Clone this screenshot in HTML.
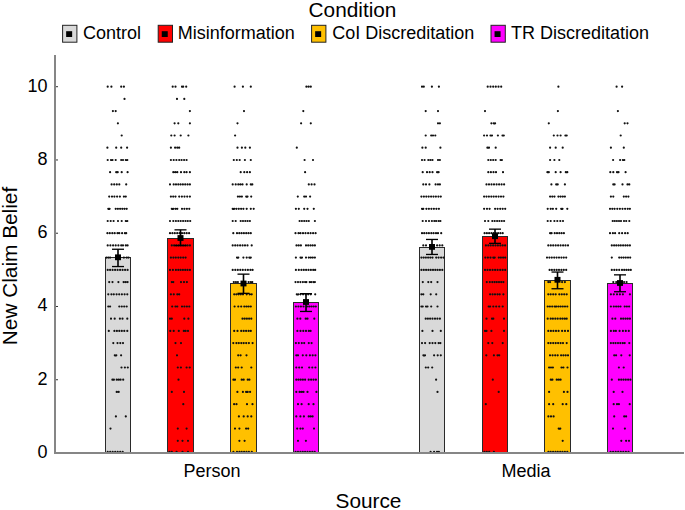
<!DOCTYPE html><html><head><meta charset="utf-8"><style>html,body{margin:0;padding:0;background:#fff;}svg{display:block;}text{font-family:"Liberation Sans",sans-serif;fill:#000;}</style></head><body>
<svg width="685" height="510" viewBox="0 0 685 510">
<rect width="685" height="510" fill="#fff"/>
<text x="352.5" y="16.6" font-size="20.8" text-anchor="middle">Condition</text>
<rect x="62.6" y="25.3" width="14.3" height="16.9" fill="#d9d9d9" stroke="#222" stroke-width="1"/>
<rect x="66.15" y="31.2" width="6" height="5.8" fill="#000"/>
<text x="83" y="39.4" font-size="18">Control</text>
<rect x="158.2" y="25.3" width="14.3" height="16.9" fill="#ff0000" stroke="#222" stroke-width="1"/>
<rect x="161.75" y="31.2" width="6" height="5.8" fill="#000"/>
<text x="177.7" y="39.4" font-size="18">Misinformation</text>
<rect x="311.6" y="25.3" width="14.3" height="16.9" fill="#ffc000" stroke="#222" stroke-width="1"/>
<rect x="315.15" y="31.2" width="6" height="5.8" fill="#000"/>
<text x="332.3" y="39.4" font-size="18">CoI Discreditation</text>
<rect x="491.0" y="25.3" width="14.3" height="16.9" fill="#ff00ff" stroke="#222" stroke-width="1"/>
<rect x="494.55" y="31.2" width="6" height="5.8" fill="#000"/>
<text x="511" y="39.4" font-size="18">TR Discreditation</text>
<text x="47.5" y="457.90" font-size="18" text-anchor="end">0</text>
<text x="47.5" y="384.64" font-size="18" text-anchor="end">2</text>
<text x="47.5" y="311.38" font-size="18" text-anchor="end">4</text>
<text x="47.5" y="238.12" font-size="18" text-anchor="end">6</text>
<text x="47.5" y="164.86" font-size="18" text-anchor="end">8</text>
<text x="47.5" y="91.60" font-size="18" text-anchor="end">10</text>
<text transform="translate(16.8,266) rotate(-90)" font-size="20.8" text-anchor="middle">New Claim Belief</text>
<text x="212" y="476.5" font-size="18" text-anchor="middle">Person</text>
<text x="526" y="476.7" font-size="18" text-anchor="middle">Media</text>
<text x="368.5" y="507.6" font-size="20.8" text-anchor="middle">Source</text>
<rect x="105.5" y="257.5" width="25.0" height="195.5" fill="#d9d9d9" stroke="#2a2a2a" stroke-width="1"/>
<rect x="167.5" y="238.5" width="26.0" height="214.5" fill="#ff0000" stroke="#2a2a2a" stroke-width="1"/>
<rect x="230.5" y="283.5" width="26.0" height="169.5" fill="#ffc000" stroke="#2a2a2a" stroke-width="1"/>
<rect x="293.5" y="302.5" width="25.0" height="150.5" fill="#ff00ff" stroke="#2a2a2a" stroke-width="1"/>
<rect x="419.5" y="247.5" width="25.0" height="205.5" fill="#d9d9d9" stroke="#2a2a2a" stroke-width="1"/>
<rect x="482.5" y="236.5" width="25.0" height="216.5" fill="#ff0000" stroke="#2a2a2a" stroke-width="1"/>
<rect x="544.5" y="280.5" width="26.0" height="172.5" fill="#ffc000" stroke="#2a2a2a" stroke-width="1"/>
<rect x="607.5" y="283.5" width="25.0" height="169.5" fill="#ff00ff" stroke="#2a2a2a" stroke-width="1"/>
<path d="M106.6 451.9a1.1 1.1 0 1 0 2.2 0a1.1 1.1 0 1 0 -2.2 0M109.1 451.9a1.1 1.1 0 1 0 2.2 0a1.1 1.1 0 1 0 -2.2 0M111.6 451.9a1.1 1.1 0 1 0 2.2 0a1.1 1.1 0 1 0 -2.2 0M114.1 451.9a1.1 1.1 0 1 0 2.2 0a1.1 1.1 0 1 0 -2.2 0M116.6 451.9a1.1 1.1 0 1 0 2.2 0a1.1 1.1 0 1 0 -2.2 0M119.1 451.9a1.1 1.1 0 1 0 2.2 0a1.1 1.1 0 1 0 -2.2 0M121.6 451.9a1.1 1.1 0 1 0 2.2 0a1.1 1.1 0 1 0 -2.2 0M109.4 428.6a1.1 1.1 0 1 0 2.2 0a1.1 1.1 0 1 0 -2.2 0M114.8 416.4a1.1 1.1 0 1 0 2.2 0a1.1 1.1 0 1 0 -2.2 0M124.7 416.4a1.1 1.1 0 1 0 2.2 0a1.1 1.1 0 1 0 -2.2 0M115.6 391.9a1.1 1.1 0 1 0 2.2 0a1.1 1.1 0 1 0 -2.2 0M117.6 391.9a1.1 1.1 0 1 0 2.2 0a1.1 1.1 0 1 0 -2.2 0M111.3 379.7a1.1 1.1 0 1 0 2.2 0a1.1 1.1 0 1 0 -2.2 0M112.8 379.7a1.1 1.1 0 1 0 2.2 0a1.1 1.1 0 1 0 -2.2 0M115.6 379.7a1.1 1.1 0 1 0 2.2 0a1.1 1.1 0 1 0 -2.2 0M117.6 379.7a1.1 1.1 0 1 0 2.2 0a1.1 1.1 0 1 0 -2.2 0M119.5 379.7a1.1 1.1 0 1 0 2.2 0a1.1 1.1 0 1 0 -2.2 0M122.1 379.7a1.1 1.1 0 1 0 2.2 0a1.1 1.1 0 1 0 -2.2 0M120.4 367.5a1.1 1.1 0 1 0 2.2 0a1.1 1.1 0 1 0 -2.2 0M123.8 367.5a1.1 1.1 0 1 0 2.2 0a1.1 1.1 0 1 0 -2.2 0M126.7 367.5a1.1 1.1 0 1 0 2.2 0a1.1 1.1 0 1 0 -2.2 0M113.7 355.3a1.1 1.1 0 1 0 2.2 0a1.1 1.1 0 1 0 -2.2 0M115.2 355.3a1.1 1.1 0 1 0 2.2 0a1.1 1.1 0 1 0 -2.2 0M120.0 355.3a1.1 1.1 0 1 0 2.2 0a1.1 1.1 0 1 0 -2.2 0M112.2 343.1a1.1 1.1 0 1 0 2.2 0a1.1 1.1 0 1 0 -2.2 0M116.4 343.1a1.1 1.1 0 1 0 2.2 0a1.1 1.1 0 1 0 -2.2 0M119.2 343.1a1.1 1.1 0 1 0 2.2 0a1.1 1.1 0 1 0 -2.2 0M121.9 343.1a1.1 1.1 0 1 0 2.2 0a1.1 1.1 0 1 0 -2.2 0M107.7 330.9a1.1 1.1 0 1 0 2.2 0a1.1 1.1 0 1 0 -2.2 0M113.3 330.9a1.1 1.1 0 1 0 2.2 0a1.1 1.1 0 1 0 -2.2 0M115.8 330.9a1.1 1.1 0 1 0 2.2 0a1.1 1.1 0 1 0 -2.2 0M118.2 330.9a1.1 1.1 0 1 0 2.2 0a1.1 1.1 0 1 0 -2.2 0M120.7 330.9a1.1 1.1 0 1 0 2.2 0a1.1 1.1 0 1 0 -2.2 0M123.2 330.9a1.1 1.1 0 1 0 2.2 0a1.1 1.1 0 1 0 -2.2 0M126.2 330.9a1.1 1.1 0 1 0 2.2 0a1.1 1.1 0 1 0 -2.2 0M109.9 318.7a1.1 1.1 0 1 0 2.2 0a1.1 1.1 0 1 0 -2.2 0M113.6 318.7a1.1 1.1 0 1 0 2.2 0a1.1 1.1 0 1 0 -2.2 0M118.8 318.7a1.1 1.1 0 1 0 2.2 0a1.1 1.1 0 1 0 -2.2 0M121.4 318.7a1.1 1.1 0 1 0 2.2 0a1.1 1.1 0 1 0 -2.2 0M126.2 318.7a1.1 1.1 0 1 0 2.2 0a1.1 1.1 0 1 0 -2.2 0M107.2 306.5a1.1 1.1 0 1 0 2.2 0a1.1 1.1 0 1 0 -2.2 0M109.0 306.5a1.1 1.1 0 1 0 2.2 0a1.1 1.1 0 1 0 -2.2 0M118.2 306.5a1.1 1.1 0 1 0 2.2 0a1.1 1.1 0 1 0 -2.2 0M120.7 306.5a1.1 1.1 0 1 0 2.2 0a1.1 1.1 0 1 0 -2.2 0M123.1 306.5a1.1 1.1 0 1 0 2.2 0a1.1 1.1 0 1 0 -2.2 0M125.6 306.5a1.1 1.1 0 1 0 2.2 0a1.1 1.1 0 1 0 -2.2 0M107.2 294.3a1.1 1.1 0 1 0 2.2 0a1.1 1.1 0 1 0 -2.2 0M110.3 294.3a1.1 1.1 0 1 0 2.2 0a1.1 1.1 0 1 0 -2.2 0M112.7 294.3a1.1 1.1 0 1 0 2.2 0a1.1 1.1 0 1 0 -2.2 0M115.5 294.3a1.1 1.1 0 1 0 2.2 0a1.1 1.1 0 1 0 -2.2 0M118.1 294.3a1.1 1.1 0 1 0 2.2 0a1.1 1.1 0 1 0 -2.2 0M120.8 294.3a1.1 1.1 0 1 0 2.2 0a1.1 1.1 0 1 0 -2.2 0M123.5 294.3a1.1 1.1 0 1 0 2.2 0a1.1 1.1 0 1 0 -2.2 0M126.2 294.3a1.1 1.1 0 1 0 2.2 0a1.1 1.1 0 1 0 -2.2 0M108.1 282.1a1.1 1.1 0 1 0 2.2 0a1.1 1.1 0 1 0 -2.2 0M111.4 282.1a1.1 1.1 0 1 0 2.2 0a1.1 1.1 0 1 0 -2.2 0M117.3 282.1a1.1 1.1 0 1 0 2.2 0a1.1 1.1 0 1 0 -2.2 0M122.5 282.1a1.1 1.1 0 1 0 2.2 0a1.1 1.1 0 1 0 -2.2 0M124.5 282.1a1.1 1.1 0 1 0 2.2 0a1.1 1.1 0 1 0 -2.2 0M126.5 282.1a1.1 1.1 0 1 0 2.2 0a1.1 1.1 0 1 0 -2.2 0M106.6 269.9a1.1 1.1 0 1 0 2.2 0a1.1 1.1 0 1 0 -2.2 0M109.0 269.9a1.1 1.1 0 1 0 2.2 0a1.1 1.1 0 1 0 -2.2 0M111.5 269.9a1.1 1.1 0 1 0 2.2 0a1.1 1.1 0 1 0 -2.2 0M114.0 269.9a1.1 1.1 0 1 0 2.2 0a1.1 1.1 0 1 0 -2.2 0M116.5 269.9a1.1 1.1 0 1 0 2.2 0a1.1 1.1 0 1 0 -2.2 0M119.0 269.9a1.1 1.1 0 1 0 2.2 0a1.1 1.1 0 1 0 -2.2 0M121.5 269.9a1.1 1.1 0 1 0 2.2 0a1.1 1.1 0 1 0 -2.2 0M124.0 269.9a1.1 1.1 0 1 0 2.2 0a1.1 1.1 0 1 0 -2.2 0M126.5 269.9a1.1 1.1 0 1 0 2.2 0a1.1 1.1 0 1 0 -2.2 0M105.3 257.6a1.1 1.1 0 1 0 2.2 0a1.1 1.1 0 1 0 -2.2 0M107.2 257.6a1.1 1.1 0 1 0 2.2 0a1.1 1.1 0 1 0 -2.2 0M109.0 257.6a1.1 1.1 0 1 0 2.2 0a1.1 1.1 0 1 0 -2.2 0M122.8 257.6a1.1 1.1 0 1 0 2.2 0a1.1 1.1 0 1 0 -2.2 0M125.6 257.6a1.1 1.1 0 1 0 2.2 0a1.1 1.1 0 1 0 -2.2 0M127.4 257.6a1.1 1.1 0 1 0 2.2 0a1.1 1.1 0 1 0 -2.2 0M106.6 245.4a1.1 1.1 0 1 0 2.2 0a1.1 1.1 0 1 0 -2.2 0M109.3 245.4a1.1 1.1 0 1 0 2.2 0a1.1 1.1 0 1 0 -2.2 0M112.0 245.4a1.1 1.1 0 1 0 2.2 0a1.1 1.1 0 1 0 -2.2 0M114.6 245.4a1.1 1.1 0 1 0 2.2 0a1.1 1.1 0 1 0 -2.2 0M117.3 245.4a1.1 1.1 0 1 0 2.2 0a1.1 1.1 0 1 0 -2.2 0M120.1 245.4a1.1 1.1 0 1 0 2.2 0a1.1 1.1 0 1 0 -2.2 0M121.9 245.4a1.1 1.1 0 1 0 2.2 0a1.1 1.1 0 1 0 -2.2 0M124.7 245.4a1.1 1.1 0 1 0 2.2 0a1.1 1.1 0 1 0 -2.2 0M126.5 245.4a1.1 1.1 0 1 0 2.2 0a1.1 1.1 0 1 0 -2.2 0M106.3 233.2a1.1 1.1 0 1 0 2.2 0a1.1 1.1 0 1 0 -2.2 0M108.7 233.2a1.1 1.1 0 1 0 2.2 0a1.1 1.1 0 1 0 -2.2 0M111.2 233.2a1.1 1.1 0 1 0 2.2 0a1.1 1.1 0 1 0 -2.2 0M113.6 233.2a1.1 1.1 0 1 0 2.2 0a1.1 1.1 0 1 0 -2.2 0M116.4 233.2a1.1 1.1 0 1 0 2.2 0a1.1 1.1 0 1 0 -2.2 0M118.2 233.2a1.1 1.1 0 1 0 2.2 0a1.1 1.1 0 1 0 -2.2 0M121.0 233.2a1.1 1.1 0 1 0 2.2 0a1.1 1.1 0 1 0 -2.2 0M123.8 233.2a1.1 1.1 0 1 0 2.2 0a1.1 1.1 0 1 0 -2.2 0M125.1 233.2a1.1 1.1 0 1 0 2.2 0a1.1 1.1 0 1 0 -2.2 0M106.6 221.0a1.1 1.1 0 1 0 2.2 0a1.1 1.1 0 1 0 -2.2 0M109.6 221.0a1.1 1.1 0 1 0 2.2 0a1.1 1.1 0 1 0 -2.2 0M112.5 221.0a1.1 1.1 0 1 0 2.2 0a1.1 1.1 0 1 0 -2.2 0M116.9 221.0a1.1 1.1 0 1 0 2.2 0a1.1 1.1 0 1 0 -2.2 0M120.6 221.0a1.1 1.1 0 1 0 2.2 0a1.1 1.1 0 1 0 -2.2 0M124.7 221.0a1.1 1.1 0 1 0 2.2 0a1.1 1.1 0 1 0 -2.2 0M126.2 221.0a1.1 1.1 0 1 0 2.2 0a1.1 1.1 0 1 0 -2.2 0M107.2 208.8a1.1 1.1 0 1 0 2.2 0a1.1 1.1 0 1 0 -2.2 0M108.5 208.8a1.1 1.1 0 1 0 2.2 0a1.1 1.1 0 1 0 -2.2 0M114.6 208.8a1.1 1.1 0 1 0 2.2 0a1.1 1.1 0 1 0 -2.2 0M116.8 208.8a1.1 1.1 0 1 0 2.2 0a1.1 1.1 0 1 0 -2.2 0M119.0 208.8a1.1 1.1 0 1 0 2.2 0a1.1 1.1 0 1 0 -2.2 0M121.2 208.8a1.1 1.1 0 1 0 2.2 0a1.1 1.1 0 1 0 -2.2 0M123.4 208.8a1.1 1.1 0 1 0 2.2 0a1.1 1.1 0 1 0 -2.2 0M125.6 208.8a1.1 1.1 0 1 0 2.2 0a1.1 1.1 0 1 0 -2.2 0M108.1 196.6a1.1 1.1 0 1 0 2.2 0a1.1 1.1 0 1 0 -2.2 0M110.9 196.6a1.1 1.1 0 1 0 2.2 0a1.1 1.1 0 1 0 -2.2 0M113.3 196.6a1.1 1.1 0 1 0 2.2 0a1.1 1.1 0 1 0 -2.2 0M116.0 196.6a1.1 1.1 0 1 0 2.2 0a1.1 1.1 0 1 0 -2.2 0M118.8 196.6a1.1 1.1 0 1 0 2.2 0a1.1 1.1 0 1 0 -2.2 0M122.8 196.6a1.1 1.1 0 1 0 2.2 0a1.1 1.1 0 1 0 -2.2 0M124.7 196.6a1.1 1.1 0 1 0 2.2 0a1.1 1.1 0 1 0 -2.2 0M110.5 184.4a1.1 1.1 0 1 0 2.2 0a1.1 1.1 0 1 0 -2.2 0M113.1 184.4a1.1 1.1 0 1 0 2.2 0a1.1 1.1 0 1 0 -2.2 0M115.7 184.4a1.1 1.1 0 1 0 2.2 0a1.1 1.1 0 1 0 -2.2 0M118.2 184.4a1.1 1.1 0 1 0 2.2 0a1.1 1.1 0 1 0 -2.2 0M125.1 184.4a1.1 1.1 0 1 0 2.2 0a1.1 1.1 0 1 0 -2.2 0M109.0 172.2a1.1 1.1 0 1 0 2.2 0a1.1 1.1 0 1 0 -2.2 0M115.1 172.2a1.1 1.1 0 1 0 2.2 0a1.1 1.1 0 1 0 -2.2 0M116.6 172.2a1.1 1.1 0 1 0 2.2 0a1.1 1.1 0 1 0 -2.2 0M120.6 172.2a1.1 1.1 0 1 0 2.2 0a1.1 1.1 0 1 0 -2.2 0M126.5 172.2a1.1 1.1 0 1 0 2.2 0a1.1 1.1 0 1 0 -2.2 0M106.6 160.0a1.1 1.1 0 1 0 2.2 0a1.1 1.1 0 1 0 -2.2 0M109.9 160.0a1.1 1.1 0 1 0 2.2 0a1.1 1.1 0 1 0 -2.2 0M111.4 160.0a1.1 1.1 0 1 0 2.2 0a1.1 1.1 0 1 0 -2.2 0M114.6 160.0a1.1 1.1 0 1 0 2.2 0a1.1 1.1 0 1 0 -2.2 0M120.1 160.0a1.1 1.1 0 1 0 2.2 0a1.1 1.1 0 1 0 -2.2 0M121.9 160.0a1.1 1.1 0 1 0 2.2 0a1.1 1.1 0 1 0 -2.2 0M124.7 160.0a1.1 1.1 0 1 0 2.2 0a1.1 1.1 0 1 0 -2.2 0M126.2 160.0a1.1 1.1 0 1 0 2.2 0a1.1 1.1 0 1 0 -2.2 0M106.3 147.7a1.1 1.1 0 1 0 2.2 0a1.1 1.1 0 1 0 -2.2 0M115.1 147.7a1.1 1.1 0 1 0 2.2 0a1.1 1.1 0 1 0 -2.2 0M120.1 147.7a1.1 1.1 0 1 0 2.2 0a1.1 1.1 0 1 0 -2.2 0M126.0 147.7a1.1 1.1 0 1 0 2.2 0a1.1 1.1 0 1 0 -2.2 0M120.6 135.5a1.1 1.1 0 1 0 2.2 0a1.1 1.1 0 1 0 -2.2 0M116.8 123.3a1.1 1.1 0 1 0 2.2 0a1.1 1.1 0 1 0 -2.2 0M111.8 111.1a1.1 1.1 0 1 0 2.2 0a1.1 1.1 0 1 0 -2.2 0M114.6 111.1a1.1 1.1 0 1 0 2.2 0a1.1 1.1 0 1 0 -2.2 0M123.4 98.9a1.1 1.1 0 1 0 2.2 0a1.1 1.1 0 1 0 -2.2 0M106.6 86.7a1.1 1.1 0 1 0 2.2 0a1.1 1.1 0 1 0 -2.2 0M110.3 86.7a1.1 1.1 0 1 0 2.2 0a1.1 1.1 0 1 0 -2.2 0M120.1 86.7a1.1 1.1 0 1 0 2.2 0a1.1 1.1 0 1 0 -2.2 0M122.8 86.7a1.1 1.1 0 1 0 2.2 0a1.1 1.1 0 1 0 -2.2 0M168.3 451.9a1.1 1.1 0 1 0 2.2 0a1.1 1.1 0 1 0 -2.2 0M170.7 451.9a1.1 1.1 0 1 0 2.2 0a1.1 1.1 0 1 0 -2.2 0M175.5 451.9a1.1 1.1 0 1 0 2.2 0a1.1 1.1 0 1 0 -2.2 0M181.4 451.9a1.1 1.1 0 1 0 2.2 0a1.1 1.1 0 1 0 -2.2 0M186.9 451.9a1.1 1.1 0 1 0 2.2 0a1.1 1.1 0 1 0 -2.2 0M176.7 440.8a1.1 1.1 0 1 0 2.2 0a1.1 1.1 0 1 0 -2.2 0M181.4 440.8a1.1 1.1 0 1 0 2.2 0a1.1 1.1 0 1 0 -2.2 0M186.9 440.8a1.1 1.1 0 1 0 2.2 0a1.1 1.1 0 1 0 -2.2 0M176.7 428.6a1.1 1.1 0 1 0 2.2 0a1.1 1.1 0 1 0 -2.2 0M185.5 428.6a1.1 1.1 0 1 0 2.2 0a1.1 1.1 0 1 0 -2.2 0M182.2 404.2a1.1 1.1 0 1 0 2.2 0a1.1 1.1 0 1 0 -2.2 0M170.7 391.9a1.1 1.1 0 1 0 2.2 0a1.1 1.1 0 1 0 -2.2 0M182.9 391.9a1.1 1.1 0 1 0 2.2 0a1.1 1.1 0 1 0 -2.2 0M177.4 379.7a1.1 1.1 0 1 0 2.2 0a1.1 1.1 0 1 0 -2.2 0M176.7 367.5a1.1 1.1 0 1 0 2.2 0a1.1 1.1 0 1 0 -2.2 0M179.8 367.5a1.1 1.1 0 1 0 2.2 0a1.1 1.1 0 1 0 -2.2 0M185.5 367.5a1.1 1.1 0 1 0 2.2 0a1.1 1.1 0 1 0 -2.2 0M188.6 367.5a1.1 1.1 0 1 0 2.2 0a1.1 1.1 0 1 0 -2.2 0M175.9 355.3a1.1 1.1 0 1 0 2.2 0a1.1 1.1 0 1 0 -2.2 0M174.4 343.1a1.1 1.1 0 1 0 2.2 0a1.1 1.1 0 1 0 -2.2 0M179.9 343.1a1.1 1.1 0 1 0 2.2 0a1.1 1.1 0 1 0 -2.2 0M169.2 330.9a1.1 1.1 0 1 0 2.2 0a1.1 1.1 0 1 0 -2.2 0M172.6 330.9a1.1 1.1 0 1 0 2.2 0a1.1 1.1 0 1 0 -2.2 0M177.7 330.9a1.1 1.1 0 1 0 2.2 0a1.1 1.1 0 1 0 -2.2 0M182.7 330.9a1.1 1.1 0 1 0 2.2 0a1.1 1.1 0 1 0 -2.2 0M184.5 330.9a1.1 1.1 0 1 0 2.2 0a1.1 1.1 0 1 0 -2.2 0M186.9 330.9a1.1 1.1 0 1 0 2.2 0a1.1 1.1 0 1 0 -2.2 0M168.9 318.7a1.1 1.1 0 1 0 2.2 0a1.1 1.1 0 1 0 -2.2 0M170.7 318.7a1.1 1.1 0 1 0 2.2 0a1.1 1.1 0 1 0 -2.2 0M183.2 318.7a1.1 1.1 0 1 0 2.2 0a1.1 1.1 0 1 0 -2.2 0M187.3 318.7a1.1 1.1 0 1 0 2.2 0a1.1 1.1 0 1 0 -2.2 0M171.1 306.5a1.1 1.1 0 1 0 2.2 0a1.1 1.1 0 1 0 -2.2 0M174.4 306.5a1.1 1.1 0 1 0 2.2 0a1.1 1.1 0 1 0 -2.2 0M176.2 306.5a1.1 1.1 0 1 0 2.2 0a1.1 1.1 0 1 0 -2.2 0M180.9 306.5a1.1 1.1 0 1 0 2.2 0a1.1 1.1 0 1 0 -2.2 0M183.3 306.5a1.1 1.1 0 1 0 2.2 0a1.1 1.1 0 1 0 -2.2 0M185.8 306.5a1.1 1.1 0 1 0 2.2 0a1.1 1.1 0 1 0 -2.2 0M188.2 306.5a1.1 1.1 0 1 0 2.2 0a1.1 1.1 0 1 0 -2.2 0M169.8 294.3a1.1 1.1 0 1 0 2.2 0a1.1 1.1 0 1 0 -2.2 0M172.7 294.3a1.1 1.1 0 1 0 2.2 0a1.1 1.1 0 1 0 -2.2 0M176.2 294.3a1.1 1.1 0 1 0 2.2 0a1.1 1.1 0 1 0 -2.2 0M178.1 294.3a1.1 1.1 0 1 0 2.2 0a1.1 1.1 0 1 0 -2.2 0M170.7 282.1a1.1 1.1 0 1 0 2.2 0a1.1 1.1 0 1 0 -2.2 0M172.2 282.1a1.1 1.1 0 1 0 2.2 0a1.1 1.1 0 1 0 -2.2 0M179.9 282.1a1.1 1.1 0 1 0 2.2 0a1.1 1.1 0 1 0 -2.2 0M182.9 282.1a1.1 1.1 0 1 0 2.2 0a1.1 1.1 0 1 0 -2.2 0M185.8 282.1a1.1 1.1 0 1 0 2.2 0a1.1 1.1 0 1 0 -2.2 0M168.9 269.9a1.1 1.1 0 1 0 2.2 0a1.1 1.1 0 1 0 -2.2 0M171.8 269.9a1.1 1.1 0 1 0 2.2 0a1.1 1.1 0 1 0 -2.2 0M174.8 269.9a1.1 1.1 0 1 0 2.2 0a1.1 1.1 0 1 0 -2.2 0M177.2 269.9a1.1 1.1 0 1 0 2.2 0a1.1 1.1 0 1 0 -2.2 0M179.5 269.9a1.1 1.1 0 1 0 2.2 0a1.1 1.1 0 1 0 -2.2 0M181.8 269.9a1.1 1.1 0 1 0 2.2 0a1.1 1.1 0 1 0 -2.2 0M184.1 269.9a1.1 1.1 0 1 0 2.2 0a1.1 1.1 0 1 0 -2.2 0M186.4 269.9a1.1 1.1 0 1 0 2.2 0a1.1 1.1 0 1 0 -2.2 0M188.8 269.9a1.1 1.1 0 1 0 2.2 0a1.1 1.1 0 1 0 -2.2 0M169.8 257.6a1.1 1.1 0 1 0 2.2 0a1.1 1.1 0 1 0 -2.2 0M172.3 257.6a1.1 1.1 0 1 0 2.2 0a1.1 1.1 0 1 0 -2.2 0M174.7 257.6a1.1 1.1 0 1 0 2.2 0a1.1 1.1 0 1 0 -2.2 0M177.2 257.6a1.1 1.1 0 1 0 2.2 0a1.1 1.1 0 1 0 -2.2 0M179.6 257.6a1.1 1.1 0 1 0 2.2 0a1.1 1.1 0 1 0 -2.2 0M182.1 257.6a1.1 1.1 0 1 0 2.2 0a1.1 1.1 0 1 0 -2.2 0M184.5 257.6a1.1 1.1 0 1 0 2.2 0a1.1 1.1 0 1 0 -2.2 0M170.7 245.4a1.1 1.1 0 1 0 2.2 0a1.1 1.1 0 1 0 -2.2 0M173.0 245.4a1.1 1.1 0 1 0 2.2 0a1.1 1.1 0 1 0 -2.2 0M175.2 245.4a1.1 1.1 0 1 0 2.2 0a1.1 1.1 0 1 0 -2.2 0M177.5 245.4a1.1 1.1 0 1 0 2.2 0a1.1 1.1 0 1 0 -2.2 0M179.7 245.4a1.1 1.1 0 1 0 2.2 0a1.1 1.1 0 1 0 -2.2 0M182.0 245.4a1.1 1.1 0 1 0 2.2 0a1.1 1.1 0 1 0 -2.2 0M184.3 245.4a1.1 1.1 0 1 0 2.2 0a1.1 1.1 0 1 0 -2.2 0M186.5 245.4a1.1 1.1 0 1 0 2.2 0a1.1 1.1 0 1 0 -2.2 0M188.8 245.4a1.1 1.1 0 1 0 2.2 0a1.1 1.1 0 1 0 -2.2 0M168.9 233.2a1.1 1.1 0 1 0 2.2 0a1.1 1.1 0 1 0 -2.2 0M171.3 233.2a1.1 1.1 0 1 0 2.2 0a1.1 1.1 0 1 0 -2.2 0M173.7 233.2a1.1 1.1 0 1 0 2.2 0a1.1 1.1 0 1 0 -2.2 0M176.1 233.2a1.1 1.1 0 1 0 2.2 0a1.1 1.1 0 1 0 -2.2 0M178.5 233.2a1.1 1.1 0 1 0 2.2 0a1.1 1.1 0 1 0 -2.2 0M180.9 233.2a1.1 1.1 0 1 0 2.2 0a1.1 1.1 0 1 0 -2.2 0M183.2 233.2a1.1 1.1 0 1 0 2.2 0a1.1 1.1 0 1 0 -2.2 0M185.6 233.2a1.1 1.1 0 1 0 2.2 0a1.1 1.1 0 1 0 -2.2 0M188.0 233.2a1.1 1.1 0 1 0 2.2 0a1.1 1.1 0 1 0 -2.2 0M168.9 221.0a1.1 1.1 0 1 0 2.2 0a1.1 1.1 0 1 0 -2.2 0M172.2 221.0a1.1 1.1 0 1 0 2.2 0a1.1 1.1 0 1 0 -2.2 0M174.8 221.0a1.1 1.1 0 1 0 2.2 0a1.1 1.1 0 1 0 -2.2 0M177.2 221.0a1.1 1.1 0 1 0 2.2 0a1.1 1.1 0 1 0 -2.2 0M179.6 221.0a1.1 1.1 0 1 0 2.2 0a1.1 1.1 0 1 0 -2.2 0M182.0 221.0a1.1 1.1 0 1 0 2.2 0a1.1 1.1 0 1 0 -2.2 0M184.4 221.0a1.1 1.1 0 1 0 2.2 0a1.1 1.1 0 1 0 -2.2 0M186.7 221.0a1.1 1.1 0 1 0 2.2 0a1.1 1.1 0 1 0 -2.2 0M189.1 221.0a1.1 1.1 0 1 0 2.2 0a1.1 1.1 0 1 0 -2.2 0M170.7 208.8a1.1 1.1 0 1 0 2.2 0a1.1 1.1 0 1 0 -2.2 0M172.2 208.8a1.1 1.1 0 1 0 2.2 0a1.1 1.1 0 1 0 -2.2 0M174.4 208.8a1.1 1.1 0 1 0 2.2 0a1.1 1.1 0 1 0 -2.2 0M176.2 208.8a1.1 1.1 0 1 0 2.2 0a1.1 1.1 0 1 0 -2.2 0M180.9 208.8a1.1 1.1 0 1 0 2.2 0a1.1 1.1 0 1 0 -2.2 0M183.3 208.8a1.1 1.1 0 1 0 2.2 0a1.1 1.1 0 1 0 -2.2 0M185.8 208.8a1.1 1.1 0 1 0 2.2 0a1.1 1.1 0 1 0 -2.2 0M188.2 208.8a1.1 1.1 0 1 0 2.2 0a1.1 1.1 0 1 0 -2.2 0M169.8 196.6a1.1 1.1 0 1 0 2.2 0a1.1 1.1 0 1 0 -2.2 0M172.1 196.6a1.1 1.1 0 1 0 2.2 0a1.1 1.1 0 1 0 -2.2 0M174.4 196.6a1.1 1.1 0 1 0 2.2 0a1.1 1.1 0 1 0 -2.2 0M178.1 196.6a1.1 1.1 0 1 0 2.2 0a1.1 1.1 0 1 0 -2.2 0M180.8 196.6a1.1 1.1 0 1 0 2.2 0a1.1 1.1 0 1 0 -2.2 0M183.4 196.6a1.1 1.1 0 1 0 2.2 0a1.1 1.1 0 1 0 -2.2 0M186.1 196.6a1.1 1.1 0 1 0 2.2 0a1.1 1.1 0 1 0 -2.2 0M188.8 196.6a1.1 1.1 0 1 0 2.2 0a1.1 1.1 0 1 0 -2.2 0M168.9 184.4a1.1 1.1 0 1 0 2.2 0a1.1 1.1 0 1 0 -2.2 0M172.6 184.4a1.1 1.1 0 1 0 2.2 0a1.1 1.1 0 1 0 -2.2 0M174.9 184.4a1.1 1.1 0 1 0 2.2 0a1.1 1.1 0 1 0 -2.2 0M177.2 184.4a1.1 1.1 0 1 0 2.2 0a1.1 1.1 0 1 0 -2.2 0M179.5 184.4a1.1 1.1 0 1 0 2.2 0a1.1 1.1 0 1 0 -2.2 0M181.8 184.4a1.1 1.1 0 1 0 2.2 0a1.1 1.1 0 1 0 -2.2 0M184.1 184.4a1.1 1.1 0 1 0 2.2 0a1.1 1.1 0 1 0 -2.2 0M186.5 184.4a1.1 1.1 0 1 0 2.2 0a1.1 1.1 0 1 0 -2.2 0M188.8 184.4a1.1 1.1 0 1 0 2.2 0a1.1 1.1 0 1 0 -2.2 0M172.2 172.2a1.1 1.1 0 1 0 2.2 0a1.1 1.1 0 1 0 -2.2 0M174.2 172.2a1.1 1.1 0 1 0 2.2 0a1.1 1.1 0 1 0 -2.2 0M176.2 172.2a1.1 1.1 0 1 0 2.2 0a1.1 1.1 0 1 0 -2.2 0M179.9 172.2a1.1 1.1 0 1 0 2.2 0a1.1 1.1 0 1 0 -2.2 0M183.2 172.2a1.1 1.1 0 1 0 2.2 0a1.1 1.1 0 1 0 -2.2 0M185.5 172.2a1.1 1.1 0 1 0 2.2 0a1.1 1.1 0 1 0 -2.2 0M188.8 172.2a1.1 1.1 0 1 0 2.2 0a1.1 1.1 0 1 0 -2.2 0M169.8 160.0a1.1 1.1 0 1 0 2.2 0a1.1 1.1 0 1 0 -2.2 0M172.6 160.0a1.1 1.1 0 1 0 2.2 0a1.1 1.1 0 1 0 -2.2 0M175.3 160.0a1.1 1.1 0 1 0 2.2 0a1.1 1.1 0 1 0 -2.2 0M178.1 160.0a1.1 1.1 0 1 0 2.2 0a1.1 1.1 0 1 0 -2.2 0M180.5 160.0a1.1 1.1 0 1 0 2.2 0a1.1 1.1 0 1 0 -2.2 0M183.0 160.0a1.1 1.1 0 1 0 2.2 0a1.1 1.1 0 1 0 -2.2 0M185.5 160.0a1.1 1.1 0 1 0 2.2 0a1.1 1.1 0 1 0 -2.2 0M169.8 147.7a1.1 1.1 0 1 0 2.2 0a1.1 1.1 0 1 0 -2.2 0M174.0 147.7a1.1 1.1 0 1 0 2.2 0a1.1 1.1 0 1 0 -2.2 0M176.2 147.7a1.1 1.1 0 1 0 2.2 0a1.1 1.1 0 1 0 -2.2 0M178.1 147.7a1.1 1.1 0 1 0 2.2 0a1.1 1.1 0 1 0 -2.2 0M170.2 135.5a1.1 1.1 0 1 0 2.2 0a1.1 1.1 0 1 0 -2.2 0M173.5 135.5a1.1 1.1 0 1 0 2.2 0a1.1 1.1 0 1 0 -2.2 0M179.6 135.5a1.1 1.1 0 1 0 2.2 0a1.1 1.1 0 1 0 -2.2 0M187.3 135.5a1.1 1.1 0 1 0 2.2 0a1.1 1.1 0 1 0 -2.2 0M173.5 123.3a1.1 1.1 0 1 0 2.2 0a1.1 1.1 0 1 0 -2.2 0M177.2 123.3a1.1 1.1 0 1 0 2.2 0a1.1 1.1 0 1 0 -2.2 0M188.8 123.3a1.1 1.1 0 1 0 2.2 0a1.1 1.1 0 1 0 -2.2 0M188.8 111.1a1.1 1.1 0 1 0 2.2 0a1.1 1.1 0 1 0 -2.2 0M175.9 98.9a1.1 1.1 0 1 0 2.2 0a1.1 1.1 0 1 0 -2.2 0M183.2 98.9a1.1 1.1 0 1 0 2.2 0a1.1 1.1 0 1 0 -2.2 0M171.6 86.7a1.1 1.1 0 1 0 2.2 0a1.1 1.1 0 1 0 -2.2 0M174.4 86.7a1.1 1.1 0 1 0 2.2 0a1.1 1.1 0 1 0 -2.2 0M180.9 86.7a1.1 1.1 0 1 0 2.2 0a1.1 1.1 0 1 0 -2.2 0M182.1 86.7a1.1 1.1 0 1 0 2.2 0a1.1 1.1 0 1 0 -2.2 0M185.1 86.7a1.1 1.1 0 1 0 2.2 0a1.1 1.1 0 1 0 -2.2 0M232.3 451.9a1.1 1.1 0 1 0 2.2 0a1.1 1.1 0 1 0 -2.2 0M235.9 451.9a1.1 1.1 0 1 0 2.2 0a1.1 1.1 0 1 0 -2.2 0M238.3 451.9a1.1 1.1 0 1 0 2.2 0a1.1 1.1 0 1 0 -2.2 0M240.6 451.9a1.1 1.1 0 1 0 2.2 0a1.1 1.1 0 1 0 -2.2 0M243.0 451.9a1.1 1.1 0 1 0 2.2 0a1.1 1.1 0 1 0 -2.2 0M245.4 451.9a1.1 1.1 0 1 0 2.2 0a1.1 1.1 0 1 0 -2.2 0M247.8 451.9a1.1 1.1 0 1 0 2.2 0a1.1 1.1 0 1 0 -2.2 0M250.7 451.9a1.1 1.1 0 1 0 2.2 0a1.1 1.1 0 1 0 -2.2 0M238.3 440.8a1.1 1.1 0 1 0 2.2 0a1.1 1.1 0 1 0 -2.2 0M243.5 440.8a1.1 1.1 0 1 0 2.2 0a1.1 1.1 0 1 0 -2.2 0M233.9 428.6a1.1 1.1 0 1 0 2.2 0a1.1 1.1 0 1 0 -2.2 0M238.3 428.6a1.1 1.1 0 1 0 2.2 0a1.1 1.1 0 1 0 -2.2 0M245.0 428.6a1.1 1.1 0 1 0 2.2 0a1.1 1.1 0 1 0 -2.2 0M247.1 428.6a1.1 1.1 0 1 0 2.2 0a1.1 1.1 0 1 0 -2.2 0M237.8 416.4a1.1 1.1 0 1 0 2.2 0a1.1 1.1 0 1 0 -2.2 0M242.6 416.4a1.1 1.1 0 1 0 2.2 0a1.1 1.1 0 1 0 -2.2 0M246.6 416.4a1.1 1.1 0 1 0 2.2 0a1.1 1.1 0 1 0 -2.2 0M250.2 416.4a1.1 1.1 0 1 0 2.2 0a1.1 1.1 0 1 0 -2.2 0M233.0 404.2a1.1 1.1 0 1 0 2.2 0a1.1 1.1 0 1 0 -2.2 0M235.4 404.2a1.1 1.1 0 1 0 2.2 0a1.1 1.1 0 1 0 -2.2 0M245.9 404.2a1.1 1.1 0 1 0 2.2 0a1.1 1.1 0 1 0 -2.2 0M251.4 404.2a1.1 1.1 0 1 0 2.2 0a1.1 1.1 0 1 0 -2.2 0M236.3 391.9a1.1 1.1 0 1 0 2.2 0a1.1 1.1 0 1 0 -2.2 0M241.8 391.9a1.1 1.1 0 1 0 2.2 0a1.1 1.1 0 1 0 -2.2 0M245.0 391.9a1.1 1.1 0 1 0 2.2 0a1.1 1.1 0 1 0 -2.2 0M246.6 391.9a1.1 1.1 0 1 0 2.2 0a1.1 1.1 0 1 0 -2.2 0M249.0 391.9a1.1 1.1 0 1 0 2.2 0a1.1 1.1 0 1 0 -2.2 0M232.3 379.7a1.1 1.1 0 1 0 2.2 0a1.1 1.1 0 1 0 -2.2 0M233.9 379.7a1.1 1.1 0 1 0 2.2 0a1.1 1.1 0 1 0 -2.2 0M240.6 379.7a1.1 1.1 0 1 0 2.2 0a1.1 1.1 0 1 0 -2.2 0M242.6 379.7a1.1 1.1 0 1 0 2.2 0a1.1 1.1 0 1 0 -2.2 0M246.6 379.7a1.1 1.1 0 1 0 2.2 0a1.1 1.1 0 1 0 -2.2 0M248.3 379.7a1.1 1.1 0 1 0 2.2 0a1.1 1.1 0 1 0 -2.2 0M234.7 367.5a1.1 1.1 0 1 0 2.2 0a1.1 1.1 0 1 0 -2.2 0M237.1 367.5a1.1 1.1 0 1 0 2.2 0a1.1 1.1 0 1 0 -2.2 0M240.6 367.5a1.1 1.1 0 1 0 2.2 0a1.1 1.1 0 1 0 -2.2 0M250.2 367.5a1.1 1.1 0 1 0 2.2 0a1.1 1.1 0 1 0 -2.2 0M237.1 355.3a1.1 1.1 0 1 0 2.2 0a1.1 1.1 0 1 0 -2.2 0M239.5 355.3a1.1 1.1 0 1 0 2.2 0a1.1 1.1 0 1 0 -2.2 0M245.4 355.3a1.1 1.1 0 1 0 2.2 0a1.1 1.1 0 1 0 -2.2 0M232.2 343.1a1.1 1.1 0 1 0 2.2 0a1.1 1.1 0 1 0 -2.2 0M235.3 343.1a1.1 1.1 0 1 0 2.2 0a1.1 1.1 0 1 0 -2.2 0M237.7 343.1a1.1 1.1 0 1 0 2.2 0a1.1 1.1 0 1 0 -2.2 0M240.2 343.1a1.1 1.1 0 1 0 2.2 0a1.1 1.1 0 1 0 -2.2 0M242.6 343.1a1.1 1.1 0 1 0 2.2 0a1.1 1.1 0 1 0 -2.2 0M245.1 343.1a1.1 1.1 0 1 0 2.2 0a1.1 1.1 0 1 0 -2.2 0M247.8 343.1a1.1 1.1 0 1 0 2.2 0a1.1 1.1 0 1 0 -2.2 0M251.5 343.1a1.1 1.1 0 1 0 2.2 0a1.1 1.1 0 1 0 -2.2 0M233.1 330.9a1.1 1.1 0 1 0 2.2 0a1.1 1.1 0 1 0 -2.2 0M236.4 330.9a1.1 1.1 0 1 0 2.2 0a1.1 1.1 0 1 0 -2.2 0M240.1 330.9a1.1 1.1 0 1 0 2.2 0a1.1 1.1 0 1 0 -2.2 0M242.6 330.9a1.1 1.1 0 1 0 2.2 0a1.1 1.1 0 1 0 -2.2 0M245.0 330.9a1.1 1.1 0 1 0 2.2 0a1.1 1.1 0 1 0 -2.2 0M247.5 330.9a1.1 1.1 0 1 0 2.2 0a1.1 1.1 0 1 0 -2.2 0M249.7 330.9a1.1 1.1 0 1 0 2.2 0a1.1 1.1 0 1 0 -2.2 0M241.4 318.7a1.1 1.1 0 1 0 2.2 0a1.1 1.1 0 1 0 -2.2 0M243.6 318.7a1.1 1.1 0 1 0 2.2 0a1.1 1.1 0 1 0 -2.2 0M245.8 318.7a1.1 1.1 0 1 0 2.2 0a1.1 1.1 0 1 0 -2.2 0M248.0 318.7a1.1 1.1 0 1 0 2.2 0a1.1 1.1 0 1 0 -2.2 0M250.2 318.7a1.1 1.1 0 1 0 2.2 0a1.1 1.1 0 1 0 -2.2 0M233.5 306.5a1.1 1.1 0 1 0 2.2 0a1.1 1.1 0 1 0 -2.2 0M237.2 306.5a1.1 1.1 0 1 0 2.2 0a1.1 1.1 0 1 0 -2.2 0M240.1 306.5a1.1 1.1 0 1 0 2.2 0a1.1 1.1 0 1 0 -2.2 0M243.2 306.5a1.1 1.1 0 1 0 2.2 0a1.1 1.1 0 1 0 -2.2 0M245.4 306.5a1.1 1.1 0 1 0 2.2 0a1.1 1.1 0 1 0 -2.2 0M247.5 306.5a1.1 1.1 0 1 0 2.2 0a1.1 1.1 0 1 0 -2.2 0M249.7 306.5a1.1 1.1 0 1 0 2.2 0a1.1 1.1 0 1 0 -2.2 0M233.1 294.3a1.1 1.1 0 1 0 2.2 0a1.1 1.1 0 1 0 -2.2 0M235.3 294.3a1.1 1.1 0 1 0 2.2 0a1.1 1.1 0 1 0 -2.2 0M237.5 294.3a1.1 1.1 0 1 0 2.2 0a1.1 1.1 0 1 0 -2.2 0M239.7 294.3a1.1 1.1 0 1 0 2.2 0a1.1 1.1 0 1 0 -2.2 0M241.9 294.3a1.1 1.1 0 1 0 2.2 0a1.1 1.1 0 1 0 -2.2 0M245.6 294.3a1.1 1.1 0 1 0 2.2 0a1.1 1.1 0 1 0 -2.2 0M248.6 294.3a1.1 1.1 0 1 0 2.2 0a1.1 1.1 0 1 0 -2.2 0M250.6 294.3a1.1 1.1 0 1 0 2.2 0a1.1 1.1 0 1 0 -2.2 0M232.7 282.1a1.1 1.1 0 1 0 2.2 0a1.1 1.1 0 1 0 -2.2 0M234.8 282.1a1.1 1.1 0 1 0 2.2 0a1.1 1.1 0 1 0 -2.2 0M236.8 282.1a1.1 1.1 0 1 0 2.2 0a1.1 1.1 0 1 0 -2.2 0M244.2 282.1a1.1 1.1 0 1 0 2.2 0a1.1 1.1 0 1 0 -2.2 0M247.5 282.1a1.1 1.1 0 1 0 2.2 0a1.1 1.1 0 1 0 -2.2 0M249.7 282.1a1.1 1.1 0 1 0 2.2 0a1.1 1.1 0 1 0 -2.2 0M251.2 282.1a1.1 1.1 0 1 0 2.2 0a1.1 1.1 0 1 0 -2.2 0M231.6 269.9a1.1 1.1 0 1 0 2.2 0a1.1 1.1 0 1 0 -2.2 0M234.2 269.9a1.1 1.1 0 1 0 2.2 0a1.1 1.1 0 1 0 -2.2 0M236.7 269.9a1.1 1.1 0 1 0 2.2 0a1.1 1.1 0 1 0 -2.2 0M239.2 269.9a1.1 1.1 0 1 0 2.2 0a1.1 1.1 0 1 0 -2.2 0M241.7 269.9a1.1 1.1 0 1 0 2.2 0a1.1 1.1 0 1 0 -2.2 0M244.3 269.9a1.1 1.1 0 1 0 2.2 0a1.1 1.1 0 1 0 -2.2 0M246.8 269.9a1.1 1.1 0 1 0 2.2 0a1.1 1.1 0 1 0 -2.2 0M249.3 269.9a1.1 1.1 0 1 0 2.2 0a1.1 1.1 0 1 0 -2.2 0M251.5 269.9a1.1 1.1 0 1 0 2.2 0a1.1 1.1 0 1 0 -2.2 0M235.9 257.6a1.1 1.1 0 1 0 2.2 0a1.1 1.1 0 1 0 -2.2 0M237.2 257.6a1.1 1.1 0 1 0 2.2 0a1.1 1.1 0 1 0 -2.2 0M242.3 257.6a1.1 1.1 0 1 0 2.2 0a1.1 1.1 0 1 0 -2.2 0M245.6 257.6a1.1 1.1 0 1 0 2.2 0a1.1 1.1 0 1 0 -2.2 0M248.2 257.6a1.1 1.1 0 1 0 2.2 0a1.1 1.1 0 1 0 -2.2 0M249.7 257.6a1.1 1.1 0 1 0 2.2 0a1.1 1.1 0 1 0 -2.2 0M231.6 245.4a1.1 1.1 0 1 0 2.2 0a1.1 1.1 0 1 0 -2.2 0M234.1 245.4a1.1 1.1 0 1 0 2.2 0a1.1 1.1 0 1 0 -2.2 0M236.5 245.4a1.1 1.1 0 1 0 2.2 0a1.1 1.1 0 1 0 -2.2 0M239.0 245.4a1.1 1.1 0 1 0 2.2 0a1.1 1.1 0 1 0 -2.2 0M241.5 245.4a1.1 1.1 0 1 0 2.2 0a1.1 1.1 0 1 0 -2.2 0M243.9 245.4a1.1 1.1 0 1 0 2.2 0a1.1 1.1 0 1 0 -2.2 0M246.4 245.4a1.1 1.1 0 1 0 2.2 0a1.1 1.1 0 1 0 -2.2 0M250.6 245.4a1.1 1.1 0 1 0 2.2 0a1.1 1.1 0 1 0 -2.2 0M232.2 233.2a1.1 1.1 0 1 0 2.2 0a1.1 1.1 0 1 0 -2.2 0M235.9 233.2a1.1 1.1 0 1 0 2.2 0a1.1 1.1 0 1 0 -2.2 0M238.2 233.2a1.1 1.1 0 1 0 2.2 0a1.1 1.1 0 1 0 -2.2 0M240.5 233.2a1.1 1.1 0 1 0 2.2 0a1.1 1.1 0 1 0 -2.2 0M242.8 233.2a1.1 1.1 0 1 0 2.2 0a1.1 1.1 0 1 0 -2.2 0M245.1 233.2a1.1 1.1 0 1 0 2.2 0a1.1 1.1 0 1 0 -2.2 0M247.4 233.2a1.1 1.1 0 1 0 2.2 0a1.1 1.1 0 1 0 -2.2 0M249.7 233.2a1.1 1.1 0 1 0 2.2 0a1.1 1.1 0 1 0 -2.2 0M231.6 221.0a1.1 1.1 0 1 0 2.2 0a1.1 1.1 0 1 0 -2.2 0M234.6 221.0a1.1 1.1 0 1 0 2.2 0a1.1 1.1 0 1 0 -2.2 0M239.6 221.0a1.1 1.1 0 1 0 2.2 0a1.1 1.1 0 1 0 -2.2 0M241.9 221.0a1.1 1.1 0 1 0 2.2 0a1.1 1.1 0 1 0 -2.2 0M244.2 221.0a1.1 1.1 0 1 0 2.2 0a1.1 1.1 0 1 0 -2.2 0M246.5 221.0a1.1 1.1 0 1 0 2.2 0a1.1 1.1 0 1 0 -2.2 0M248.8 221.0a1.1 1.1 0 1 0 2.2 0a1.1 1.1 0 1 0 -2.2 0M231.6 208.8a1.1 1.1 0 1 0 2.2 0a1.1 1.1 0 1 0 -2.2 0M233.1 208.8a1.1 1.1 0 1 0 2.2 0a1.1 1.1 0 1 0 -2.2 0M235.3 208.8a1.1 1.1 0 1 0 2.2 0a1.1 1.1 0 1 0 -2.2 0M237.7 208.8a1.1 1.1 0 1 0 2.2 0a1.1 1.1 0 1 0 -2.2 0M240.0 208.8a1.1 1.1 0 1 0 2.2 0a1.1 1.1 0 1 0 -2.2 0M242.3 208.8a1.1 1.1 0 1 0 2.2 0a1.1 1.1 0 1 0 -2.2 0M245.6 208.8a1.1 1.1 0 1 0 2.2 0a1.1 1.1 0 1 0 -2.2 0M249.7 208.8a1.1 1.1 0 1 0 2.2 0a1.1 1.1 0 1 0 -2.2 0M252.6 208.8a1.1 1.1 0 1 0 2.2 0a1.1 1.1 0 1 0 -2.2 0M236.8 196.6a1.1 1.1 0 1 0 2.2 0a1.1 1.1 0 1 0 -2.2 0M238.8 196.6a1.1 1.1 0 1 0 2.2 0a1.1 1.1 0 1 0 -2.2 0M240.8 196.6a1.1 1.1 0 1 0 2.2 0a1.1 1.1 0 1 0 -2.2 0M245.1 196.6a1.1 1.1 0 1 0 2.2 0a1.1 1.1 0 1 0 -2.2 0M246.4 196.6a1.1 1.1 0 1 0 2.2 0a1.1 1.1 0 1 0 -2.2 0M250.1 196.6a1.1 1.1 0 1 0 2.2 0a1.1 1.1 0 1 0 -2.2 0M231.6 184.4a1.1 1.1 0 1 0 2.2 0a1.1 1.1 0 1 0 -2.2 0M234.6 184.4a1.1 1.1 0 1 0 2.2 0a1.1 1.1 0 1 0 -2.2 0M237.2 184.4a1.1 1.1 0 1 0 2.2 0a1.1 1.1 0 1 0 -2.2 0M239.3 184.4a1.1 1.1 0 1 0 2.2 0a1.1 1.1 0 1 0 -2.2 0M241.4 184.4a1.1 1.1 0 1 0 2.2 0a1.1 1.1 0 1 0 -2.2 0M245.6 184.4a1.1 1.1 0 1 0 2.2 0a1.1 1.1 0 1 0 -2.2 0M249.7 184.4a1.1 1.1 0 1 0 2.2 0a1.1 1.1 0 1 0 -2.2 0M251.2 184.4a1.1 1.1 0 1 0 2.2 0a1.1 1.1 0 1 0 -2.2 0M239.6 172.2a1.1 1.1 0 1 0 2.2 0a1.1 1.1 0 1 0 -2.2 0M243.2 172.2a1.1 1.1 0 1 0 2.2 0a1.1 1.1 0 1 0 -2.2 0M246.0 172.2a1.1 1.1 0 1 0 2.2 0a1.1 1.1 0 1 0 -2.2 0M248.8 172.2a1.1 1.1 0 1 0 2.2 0a1.1 1.1 0 1 0 -2.2 0M232.7 160.0a1.1 1.1 0 1 0 2.2 0a1.1 1.1 0 1 0 -2.2 0M235.7 160.0a1.1 1.1 0 1 0 2.2 0a1.1 1.1 0 1 0 -2.2 0M238.6 160.0a1.1 1.1 0 1 0 2.2 0a1.1 1.1 0 1 0 -2.2 0M243.8 160.0a1.1 1.1 0 1 0 2.2 0a1.1 1.1 0 1 0 -2.2 0M249.7 160.0a1.1 1.1 0 1 0 2.2 0a1.1 1.1 0 1 0 -2.2 0M236.4 147.7a1.1 1.1 0 1 0 2.2 0a1.1 1.1 0 1 0 -2.2 0M240.8 147.7a1.1 1.1 0 1 0 2.2 0a1.1 1.1 0 1 0 -2.2 0M244.2 147.7a1.1 1.1 0 1 0 2.2 0a1.1 1.1 0 1 0 -2.2 0M248.8 147.7a1.1 1.1 0 1 0 2.2 0a1.1 1.1 0 1 0 -2.2 0M234.0 135.5a1.1 1.1 0 1 0 2.2 0a1.1 1.1 0 1 0 -2.2 0M236.4 123.3a1.1 1.1 0 1 0 2.2 0a1.1 1.1 0 1 0 -2.2 0M242.9 111.1a1.1 1.1 0 1 0 2.2 0a1.1 1.1 0 1 0 -2.2 0M233.5 86.7a1.1 1.1 0 1 0 2.2 0a1.1 1.1 0 1 0 -2.2 0M241.8 86.7a1.1 1.1 0 1 0 2.2 0a1.1 1.1 0 1 0 -2.2 0M249.7 86.7a1.1 1.1 0 1 0 2.2 0a1.1 1.1 0 1 0 -2.2 0M294.5 451.9a1.1 1.1 0 1 0 2.2 0a1.1 1.1 0 1 0 -2.2 0M296.9 451.9a1.1 1.1 0 1 0 2.2 0a1.1 1.1 0 1 0 -2.2 0M299.3 451.9a1.1 1.1 0 1 0 2.2 0a1.1 1.1 0 1 0 -2.2 0M301.7 451.9a1.1 1.1 0 1 0 2.2 0a1.1 1.1 0 1 0 -2.2 0M304.0 451.9a1.1 1.1 0 1 0 2.2 0a1.1 1.1 0 1 0 -2.2 0M306.4 451.9a1.1 1.1 0 1 0 2.2 0a1.1 1.1 0 1 0 -2.2 0M308.8 451.9a1.1 1.1 0 1 0 2.2 0a1.1 1.1 0 1 0 -2.2 0M311.2 451.9a1.1 1.1 0 1 0 2.2 0a1.1 1.1 0 1 0 -2.2 0M313.6 451.9a1.1 1.1 0 1 0 2.2 0a1.1 1.1 0 1 0 -2.2 0M296.9 440.8a1.1 1.1 0 1 0 2.2 0a1.1 1.1 0 1 0 -2.2 0M304.8 440.8a1.1 1.1 0 1 0 2.2 0a1.1 1.1 0 1 0 -2.2 0M296.1 428.6a1.1 1.1 0 1 0 2.2 0a1.1 1.1 0 1 0 -2.2 0M299.3 428.6a1.1 1.1 0 1 0 2.2 0a1.1 1.1 0 1 0 -2.2 0M301.7 428.6a1.1 1.1 0 1 0 2.2 0a1.1 1.1 0 1 0 -2.2 0M312.9 428.6a1.1 1.1 0 1 0 2.2 0a1.1 1.1 0 1 0 -2.2 0M295.2 416.4a1.1 1.1 0 1 0 2.2 0a1.1 1.1 0 1 0 -2.2 0M299.3 416.4a1.1 1.1 0 1 0 2.2 0a1.1 1.1 0 1 0 -2.2 0M302.8 416.4a1.1 1.1 0 1 0 2.2 0a1.1 1.1 0 1 0 -2.2 0M307.6 416.4a1.1 1.1 0 1 0 2.2 0a1.1 1.1 0 1 0 -2.2 0M309.5 416.4a1.1 1.1 0 1 0 2.2 0a1.1 1.1 0 1 0 -2.2 0M311.5 416.4a1.1 1.1 0 1 0 2.2 0a1.1 1.1 0 1 0 -2.2 0M296.9 404.2a1.1 1.1 0 1 0 2.2 0a1.1 1.1 0 1 0 -2.2 0M300.5 404.2a1.1 1.1 0 1 0 2.2 0a1.1 1.1 0 1 0 -2.2 0M307.6 404.2a1.1 1.1 0 1 0 2.2 0a1.1 1.1 0 1 0 -2.2 0M312.4 404.2a1.1 1.1 0 1 0 2.2 0a1.1 1.1 0 1 0 -2.2 0M295.2 391.9a1.1 1.1 0 1 0 2.2 0a1.1 1.1 0 1 0 -2.2 0M298.5 391.9a1.1 1.1 0 1 0 2.2 0a1.1 1.1 0 1 0 -2.2 0M300.5 391.9a1.1 1.1 0 1 0 2.2 0a1.1 1.1 0 1 0 -2.2 0M302.4 391.9a1.1 1.1 0 1 0 2.2 0a1.1 1.1 0 1 0 -2.2 0M306.4 391.9a1.1 1.1 0 1 0 2.2 0a1.1 1.1 0 1 0 -2.2 0M315.3 391.9a1.1 1.1 0 1 0 2.2 0a1.1 1.1 0 1 0 -2.2 0M295.2 379.7a1.1 1.1 0 1 0 2.2 0a1.1 1.1 0 1 0 -2.2 0M297.4 379.7a1.1 1.1 0 1 0 2.2 0a1.1 1.1 0 1 0 -2.2 0M299.6 379.7a1.1 1.1 0 1 0 2.2 0a1.1 1.1 0 1 0 -2.2 0M301.8 379.7a1.1 1.1 0 1 0 2.2 0a1.1 1.1 0 1 0 -2.2 0M304.0 379.7a1.1 1.1 0 1 0 2.2 0a1.1 1.1 0 1 0 -2.2 0M307.6 379.7a1.1 1.1 0 1 0 2.2 0a1.1 1.1 0 1 0 -2.2 0M310.0 379.7a1.1 1.1 0 1 0 2.2 0a1.1 1.1 0 1 0 -2.2 0M312.4 379.7a1.1 1.1 0 1 0 2.2 0a1.1 1.1 0 1 0 -2.2 0M314.8 379.7a1.1 1.1 0 1 0 2.2 0a1.1 1.1 0 1 0 -2.2 0M295.2 367.5a1.1 1.1 0 1 0 2.2 0a1.1 1.1 0 1 0 -2.2 0M298.1 367.5a1.1 1.1 0 1 0 2.2 0a1.1 1.1 0 1 0 -2.2 0M300.9 367.5a1.1 1.1 0 1 0 2.2 0a1.1 1.1 0 1 0 -2.2 0M308.1 367.5a1.1 1.1 0 1 0 2.2 0a1.1 1.1 0 1 0 -2.2 0M311.2 367.5a1.1 1.1 0 1 0 2.2 0a1.1 1.1 0 1 0 -2.2 0M314.3 367.5a1.1 1.1 0 1 0 2.2 0a1.1 1.1 0 1 0 -2.2 0M295.2 355.3a1.1 1.1 0 1 0 2.2 0a1.1 1.1 0 1 0 -2.2 0M296.9 355.3a1.1 1.1 0 1 0 2.2 0a1.1 1.1 0 1 0 -2.2 0M301.7 355.3a1.1 1.1 0 1 0 2.2 0a1.1 1.1 0 1 0 -2.2 0M305.2 355.3a1.1 1.1 0 1 0 2.2 0a1.1 1.1 0 1 0 -2.2 0M308.8 355.3a1.1 1.1 0 1 0 2.2 0a1.1 1.1 0 1 0 -2.2 0M311.6 355.3a1.1 1.1 0 1 0 2.2 0a1.1 1.1 0 1 0 -2.2 0M314.3 355.3a1.1 1.1 0 1 0 2.2 0a1.1 1.1 0 1 0 -2.2 0M294.8 343.1a1.1 1.1 0 1 0 2.2 0a1.1 1.1 0 1 0 -2.2 0M297.7 343.1a1.1 1.1 0 1 0 2.2 0a1.1 1.1 0 1 0 -2.2 0M300.7 343.1a1.1 1.1 0 1 0 2.2 0a1.1 1.1 0 1 0 -2.2 0M303.1 343.1a1.1 1.1 0 1 0 2.2 0a1.1 1.1 0 1 0 -2.2 0M307.7 343.1a1.1 1.1 0 1 0 2.2 0a1.1 1.1 0 1 0 -2.2 0M310.5 343.1a1.1 1.1 0 1 0 2.2 0a1.1 1.1 0 1 0 -2.2 0M296.3 330.9a1.1 1.1 0 1 0 2.2 0a1.1 1.1 0 1 0 -2.2 0M299.4 330.9a1.1 1.1 0 1 0 2.2 0a1.1 1.1 0 1 0 -2.2 0M302.2 330.9a1.1 1.1 0 1 0 2.2 0a1.1 1.1 0 1 0 -2.2 0M304.9 330.9a1.1 1.1 0 1 0 2.2 0a1.1 1.1 0 1 0 -2.2 0M307.7 330.9a1.1 1.1 0 1 0 2.2 0a1.1 1.1 0 1 0 -2.2 0M309.5 330.9a1.1 1.1 0 1 0 2.2 0a1.1 1.1 0 1 0 -2.2 0M296.3 318.7a1.1 1.1 0 1 0 2.2 0a1.1 1.1 0 1 0 -2.2 0M299.2 318.7a1.1 1.1 0 1 0 2.2 0a1.1 1.1 0 1 0 -2.2 0M304.6 318.7a1.1 1.1 0 1 0 2.2 0a1.1 1.1 0 1 0 -2.2 0M306.4 318.7a1.1 1.1 0 1 0 2.2 0a1.1 1.1 0 1 0 -2.2 0M313.2 318.7a1.1 1.1 0 1 0 2.2 0a1.1 1.1 0 1 0 -2.2 0M294.8 306.5a1.1 1.1 0 1 0 2.2 0a1.1 1.1 0 1 0 -2.2 0M297.3 306.5a1.1 1.1 0 1 0 2.2 0a1.1 1.1 0 1 0 -2.2 0M299.8 306.5a1.1 1.1 0 1 0 2.2 0a1.1 1.1 0 1 0 -2.2 0M302.4 306.5a1.1 1.1 0 1 0 2.2 0a1.1 1.1 0 1 0 -2.2 0M305.9 306.5a1.1 1.1 0 1 0 2.2 0a1.1 1.1 0 1 0 -2.2 0M308.1 306.5a1.1 1.1 0 1 0 2.2 0a1.1 1.1 0 1 0 -2.2 0M310.3 306.5a1.1 1.1 0 1 0 2.2 0a1.1 1.1 0 1 0 -2.2 0M312.5 306.5a1.1 1.1 0 1 0 2.2 0a1.1 1.1 0 1 0 -2.2 0M314.7 306.5a1.1 1.1 0 1 0 2.2 0a1.1 1.1 0 1 0 -2.2 0M295.7 294.3a1.1 1.1 0 1 0 2.2 0a1.1 1.1 0 1 0 -2.2 0M297.2 294.3a1.1 1.1 0 1 0 2.2 0a1.1 1.1 0 1 0 -2.2 0M299.4 294.3a1.1 1.1 0 1 0 2.2 0a1.1 1.1 0 1 0 -2.2 0M302.0 294.3a1.1 1.1 0 1 0 2.2 0a1.1 1.1 0 1 0 -2.2 0M304.6 294.3a1.1 1.1 0 1 0 2.2 0a1.1 1.1 0 1 0 -2.2 0M307.1 294.3a1.1 1.1 0 1 0 2.2 0a1.1 1.1 0 1 0 -2.2 0M309.7 294.3a1.1 1.1 0 1 0 2.2 0a1.1 1.1 0 1 0 -2.2 0M314.1 294.3a1.1 1.1 0 1 0 2.2 0a1.1 1.1 0 1 0 -2.2 0M294.4 282.1a1.1 1.1 0 1 0 2.2 0a1.1 1.1 0 1 0 -2.2 0M296.9 282.1a1.1 1.1 0 1 0 2.2 0a1.1 1.1 0 1 0 -2.2 0M299.3 282.1a1.1 1.1 0 1 0 2.2 0a1.1 1.1 0 1 0 -2.2 0M301.8 282.1a1.1 1.1 0 1 0 2.2 0a1.1 1.1 0 1 0 -2.2 0M304.0 282.1a1.1 1.1 0 1 0 2.2 0a1.1 1.1 0 1 0 -2.2 0M305.3 282.1a1.1 1.1 0 1 0 2.2 0a1.1 1.1 0 1 0 -2.2 0M308.6 282.1a1.1 1.1 0 1 0 2.2 0a1.1 1.1 0 1 0 -2.2 0M310.1 282.1a1.1 1.1 0 1 0 2.2 0a1.1 1.1 0 1 0 -2.2 0M312.3 282.1a1.1 1.1 0 1 0 2.2 0a1.1 1.1 0 1 0 -2.2 0M313.8 282.1a1.1 1.1 0 1 0 2.2 0a1.1 1.1 0 1 0 -2.2 0M294.8 269.9a1.1 1.1 0 1 0 2.2 0a1.1 1.1 0 1 0 -2.2 0M297.7 269.9a1.1 1.1 0 1 0 2.2 0a1.1 1.1 0 1 0 -2.2 0M300.3 269.9a1.1 1.1 0 1 0 2.2 0a1.1 1.1 0 1 0 -2.2 0M302.7 269.9a1.1 1.1 0 1 0 2.2 0a1.1 1.1 0 1 0 -2.2 0M305.0 269.9a1.1 1.1 0 1 0 2.2 0a1.1 1.1 0 1 0 -2.2 0M307.4 269.9a1.1 1.1 0 1 0 2.2 0a1.1 1.1 0 1 0 -2.2 0M309.8 269.9a1.1 1.1 0 1 0 2.2 0a1.1 1.1 0 1 0 -2.2 0M312.1 269.9a1.1 1.1 0 1 0 2.2 0a1.1 1.1 0 1 0 -2.2 0M314.1 269.9a1.1 1.1 0 1 0 2.2 0a1.1 1.1 0 1 0 -2.2 0M294.8 257.6a1.1 1.1 0 1 0 2.2 0a1.1 1.1 0 1 0 -2.2 0M299.4 257.6a1.1 1.1 0 1 0 2.2 0a1.1 1.1 0 1 0 -2.2 0M300.9 257.6a1.1 1.1 0 1 0 2.2 0a1.1 1.1 0 1 0 -2.2 0M304.9 257.6a1.1 1.1 0 1 0 2.2 0a1.1 1.1 0 1 0 -2.2 0M307.7 257.6a1.1 1.1 0 1 0 2.2 0a1.1 1.1 0 1 0 -2.2 0M309.7 257.6a1.1 1.1 0 1 0 2.2 0a1.1 1.1 0 1 0 -2.2 0M311.7 257.6a1.1 1.1 0 1 0 2.2 0a1.1 1.1 0 1 0 -2.2 0M313.8 257.6a1.1 1.1 0 1 0 2.2 0a1.1 1.1 0 1 0 -2.2 0M295.4 245.4a1.1 1.1 0 1 0 2.2 0a1.1 1.1 0 1 0 -2.2 0M297.6 245.4a1.1 1.1 0 1 0 2.2 0a1.1 1.1 0 1 0 -2.2 0M299.8 245.4a1.1 1.1 0 1 0 2.2 0a1.1 1.1 0 1 0 -2.2 0M304.9 245.4a1.1 1.1 0 1 0 2.2 0a1.1 1.1 0 1 0 -2.2 0M307.1 245.4a1.1 1.1 0 1 0 2.2 0a1.1 1.1 0 1 0 -2.2 0M309.4 245.4a1.1 1.1 0 1 0 2.2 0a1.1 1.1 0 1 0 -2.2 0M311.6 245.4a1.1 1.1 0 1 0 2.2 0a1.1 1.1 0 1 0 -2.2 0M313.8 245.4a1.1 1.1 0 1 0 2.2 0a1.1 1.1 0 1 0 -2.2 0M294.4 233.2a1.1 1.1 0 1 0 2.2 0a1.1 1.1 0 1 0 -2.2 0M297.4 233.2a1.1 1.1 0 1 0 2.2 0a1.1 1.1 0 1 0 -2.2 0M299.4 233.2a1.1 1.1 0 1 0 2.2 0a1.1 1.1 0 1 0 -2.2 0M301.9 233.2a1.1 1.1 0 1 0 2.2 0a1.1 1.1 0 1 0 -2.2 0M304.4 233.2a1.1 1.1 0 1 0 2.2 0a1.1 1.1 0 1 0 -2.2 0M307.0 233.2a1.1 1.1 0 1 0 2.2 0a1.1 1.1 0 1 0 -2.2 0M309.5 233.2a1.1 1.1 0 1 0 2.2 0a1.1 1.1 0 1 0 -2.2 0M312.0 233.2a1.1 1.1 0 1 0 2.2 0a1.1 1.1 0 1 0 -2.2 0M314.5 233.2a1.1 1.1 0 1 0 2.2 0a1.1 1.1 0 1 0 -2.2 0M298.5 221.0a1.1 1.1 0 1 0 2.2 0a1.1 1.1 0 1 0 -2.2 0M300.8 221.0a1.1 1.1 0 1 0 2.2 0a1.1 1.1 0 1 0 -2.2 0M303.1 221.0a1.1 1.1 0 1 0 2.2 0a1.1 1.1 0 1 0 -2.2 0M305.4 221.0a1.1 1.1 0 1 0 2.2 0a1.1 1.1 0 1 0 -2.2 0M307.7 221.0a1.1 1.1 0 1 0 2.2 0a1.1 1.1 0 1 0 -2.2 0M313.8 221.0a1.1 1.1 0 1 0 2.2 0a1.1 1.1 0 1 0 -2.2 0M294.8 208.8a1.1 1.1 0 1 0 2.2 0a1.1 1.1 0 1 0 -2.2 0M297.7 208.8a1.1 1.1 0 1 0 2.2 0a1.1 1.1 0 1 0 -2.2 0M303.1 208.8a1.1 1.1 0 1 0 2.2 0a1.1 1.1 0 1 0 -2.2 0M306.4 208.8a1.1 1.1 0 1 0 2.2 0a1.1 1.1 0 1 0 -2.2 0M312.7 208.8a1.1 1.1 0 1 0 2.2 0a1.1 1.1 0 1 0 -2.2 0M296.7 196.6a1.1 1.1 0 1 0 2.2 0a1.1 1.1 0 1 0 -2.2 0M303.1 196.6a1.1 1.1 0 1 0 2.2 0a1.1 1.1 0 1 0 -2.2 0M304.9 196.6a1.1 1.1 0 1 0 2.2 0a1.1 1.1 0 1 0 -2.2 0M309.0 196.6a1.1 1.1 0 1 0 2.2 0a1.1 1.1 0 1 0 -2.2 0M307.7 184.4a1.1 1.1 0 1 0 2.2 0a1.1 1.1 0 1 0 -2.2 0M310.5 184.4a1.1 1.1 0 1 0 2.2 0a1.1 1.1 0 1 0 -2.2 0M313.4 184.4a1.1 1.1 0 1 0 2.2 0a1.1 1.1 0 1 0 -2.2 0M304.0 172.2a1.1 1.1 0 1 0 2.2 0a1.1 1.1 0 1 0 -2.2 0M303.5 160.0a1.1 1.1 0 1 0 2.2 0a1.1 1.1 0 1 0 -2.2 0M311.9 160.0a1.1 1.1 0 1 0 2.2 0a1.1 1.1 0 1 0 -2.2 0M295.7 147.7a1.1 1.1 0 1 0 2.2 0a1.1 1.1 0 1 0 -2.2 0M300.0 123.3a1.1 1.1 0 1 0 2.2 0a1.1 1.1 0 1 0 -2.2 0M309.7 123.3a1.1 1.1 0 1 0 2.2 0a1.1 1.1 0 1 0 -2.2 0M302.2 111.1a1.1 1.1 0 1 0 2.2 0a1.1 1.1 0 1 0 -2.2 0M305.3 86.7a1.1 1.1 0 1 0 2.2 0a1.1 1.1 0 1 0 -2.2 0M307.5 86.7a1.1 1.1 0 1 0 2.2 0a1.1 1.1 0 1 0 -2.2 0M309.7 86.7a1.1 1.1 0 1 0 2.2 0a1.1 1.1 0 1 0 -2.2 0M429.5 451.9a1.1 1.1 0 1 0 2.2 0a1.1 1.1 0 1 0 -2.2 0M433.0 451.9a1.1 1.1 0 1 0 2.2 0a1.1 1.1 0 1 0 -2.2 0M435.9 451.9a1.1 1.1 0 1 0 2.2 0a1.1 1.1 0 1 0 -2.2 0M437.8 451.9a1.1 1.1 0 1 0 2.2 0a1.1 1.1 0 1 0 -2.2 0M436.4 391.9a1.1 1.1 0 1 0 2.2 0a1.1 1.1 0 1 0 -2.2 0M435.0 379.7a1.1 1.1 0 1 0 2.2 0a1.1 1.1 0 1 0 -2.2 0M424.7 367.5a1.1 1.1 0 1 0 2.2 0a1.1 1.1 0 1 0 -2.2 0M427.1 367.5a1.1 1.1 0 1 0 2.2 0a1.1 1.1 0 1 0 -2.2 0M431.1 367.5a1.1 1.1 0 1 0 2.2 0a1.1 1.1 0 1 0 -2.2 0M422.3 355.3a1.1 1.1 0 1 0 2.2 0a1.1 1.1 0 1 0 -2.2 0M423.9 355.3a1.1 1.1 0 1 0 2.2 0a1.1 1.1 0 1 0 -2.2 0M433.0 355.3a1.1 1.1 0 1 0 2.2 0a1.1 1.1 0 1 0 -2.2 0M436.6 355.3a1.1 1.1 0 1 0 2.2 0a1.1 1.1 0 1 0 -2.2 0M439.7 355.3a1.1 1.1 0 1 0 2.2 0a1.1 1.1 0 1 0 -2.2 0M420.9 343.1a1.1 1.1 0 1 0 2.2 0a1.1 1.1 0 1 0 -2.2 0M424.0 343.1a1.1 1.1 0 1 0 2.2 0a1.1 1.1 0 1 0 -2.2 0M428.6 343.1a1.1 1.1 0 1 0 2.2 0a1.1 1.1 0 1 0 -2.2 0M431.4 343.1a1.1 1.1 0 1 0 2.2 0a1.1 1.1 0 1 0 -2.2 0M434.2 343.1a1.1 1.1 0 1 0 2.2 0a1.1 1.1 0 1 0 -2.2 0M437.5 343.1a1.1 1.1 0 1 0 2.2 0a1.1 1.1 0 1 0 -2.2 0M439.3 343.1a1.1 1.1 0 1 0 2.2 0a1.1 1.1 0 1 0 -2.2 0M421.3 330.9a1.1 1.1 0 1 0 2.2 0a1.1 1.1 0 1 0 -2.2 0M431.4 330.9a1.1 1.1 0 1 0 2.2 0a1.1 1.1 0 1 0 -2.2 0M439.7 330.9a1.1 1.1 0 1 0 2.2 0a1.1 1.1 0 1 0 -2.2 0M424.6 318.7a1.1 1.1 0 1 0 2.2 0a1.1 1.1 0 1 0 -2.2 0M426.8 318.7a1.1 1.1 0 1 0 2.2 0a1.1 1.1 0 1 0 -2.2 0M429.0 318.7a1.1 1.1 0 1 0 2.2 0a1.1 1.1 0 1 0 -2.2 0M431.4 318.7a1.1 1.1 0 1 0 2.2 0a1.1 1.1 0 1 0 -2.2 0M433.9 318.7a1.1 1.1 0 1 0 2.2 0a1.1 1.1 0 1 0 -2.2 0M436.3 318.7a1.1 1.1 0 1 0 2.2 0a1.1 1.1 0 1 0 -2.2 0M438.8 318.7a1.1 1.1 0 1 0 2.2 0a1.1 1.1 0 1 0 -2.2 0M420.3 306.5a1.1 1.1 0 1 0 2.2 0a1.1 1.1 0 1 0 -2.2 0M421.6 306.5a1.1 1.1 0 1 0 2.2 0a1.1 1.1 0 1 0 -2.2 0M424.9 306.5a1.1 1.1 0 1 0 2.2 0a1.1 1.1 0 1 0 -2.2 0M426.4 306.5a1.1 1.1 0 1 0 2.2 0a1.1 1.1 0 1 0 -2.2 0M430.1 306.5a1.1 1.1 0 1 0 2.2 0a1.1 1.1 0 1 0 -2.2 0M436.4 306.5a1.1 1.1 0 1 0 2.2 0a1.1 1.1 0 1 0 -2.2 0M420.3 294.3a1.1 1.1 0 1 0 2.2 0a1.1 1.1 0 1 0 -2.2 0M422.2 294.3a1.1 1.1 0 1 0 2.2 0a1.1 1.1 0 1 0 -2.2 0M429.6 294.3a1.1 1.1 0 1 0 2.2 0a1.1 1.1 0 1 0 -2.2 0M435.1 294.3a1.1 1.1 0 1 0 2.2 0a1.1 1.1 0 1 0 -2.2 0M421.7 282.1a1.1 1.1 0 1 0 2.2 0a1.1 1.1 0 1 0 -2.2 0M427.2 282.1a1.1 1.1 0 1 0 2.2 0a1.1 1.1 0 1 0 -2.2 0M430.1 282.1a1.1 1.1 0 1 0 2.2 0a1.1 1.1 0 1 0 -2.2 0M436.4 282.1a1.1 1.1 0 1 0 2.2 0a1.1 1.1 0 1 0 -2.2 0M420.3 269.9a1.1 1.1 0 1 0 2.2 0a1.1 1.1 0 1 0 -2.2 0M422.7 269.9a1.1 1.1 0 1 0 2.2 0a1.1 1.1 0 1 0 -2.2 0M425.0 269.9a1.1 1.1 0 1 0 2.2 0a1.1 1.1 0 1 0 -2.2 0M427.3 269.9a1.1 1.1 0 1 0 2.2 0a1.1 1.1 0 1 0 -2.2 0M429.6 269.9a1.1 1.1 0 1 0 2.2 0a1.1 1.1 0 1 0 -2.2 0M431.9 269.9a1.1 1.1 0 1 0 2.2 0a1.1 1.1 0 1 0 -2.2 0M434.2 269.9a1.1 1.1 0 1 0 2.2 0a1.1 1.1 0 1 0 -2.2 0M436.5 269.9a1.1 1.1 0 1 0 2.2 0a1.1 1.1 0 1 0 -2.2 0M438.8 269.9a1.1 1.1 0 1 0 2.2 0a1.1 1.1 0 1 0 -2.2 0M441.2 269.9a1.1 1.1 0 1 0 2.2 0a1.1 1.1 0 1 0 -2.2 0M420.3 257.6a1.1 1.1 0 1 0 2.2 0a1.1 1.1 0 1 0 -2.2 0M422.6 257.6a1.1 1.1 0 1 0 2.2 0a1.1 1.1 0 1 0 -2.2 0M424.8 257.6a1.1 1.1 0 1 0 2.2 0a1.1 1.1 0 1 0 -2.2 0M427.0 257.6a1.1 1.1 0 1 0 2.2 0a1.1 1.1 0 1 0 -2.2 0M429.2 257.6a1.1 1.1 0 1 0 2.2 0a1.1 1.1 0 1 0 -2.2 0M431.4 257.6a1.1 1.1 0 1 0 2.2 0a1.1 1.1 0 1 0 -2.2 0M435.1 257.6a1.1 1.1 0 1 0 2.2 0a1.1 1.1 0 1 0 -2.2 0M437.5 257.6a1.1 1.1 0 1 0 2.2 0a1.1 1.1 0 1 0 -2.2 0M440.0 257.6a1.1 1.1 0 1 0 2.2 0a1.1 1.1 0 1 0 -2.2 0M442.4 257.6a1.1 1.1 0 1 0 2.2 0a1.1 1.1 0 1 0 -2.2 0M422.2 245.4a1.1 1.1 0 1 0 2.2 0a1.1 1.1 0 1 0 -2.2 0M424.9 245.4a1.1 1.1 0 1 0 2.2 0a1.1 1.1 0 1 0 -2.2 0M436.0 245.4a1.1 1.1 0 1 0 2.2 0a1.1 1.1 0 1 0 -2.2 0M438.6 245.4a1.1 1.1 0 1 0 2.2 0a1.1 1.1 0 1 0 -2.2 0M441.2 245.4a1.1 1.1 0 1 0 2.2 0a1.1 1.1 0 1 0 -2.2 0M420.9 233.2a1.1 1.1 0 1 0 2.2 0a1.1 1.1 0 1 0 -2.2 0M423.1 233.2a1.1 1.1 0 1 0 2.2 0a1.1 1.1 0 1 0 -2.2 0M425.5 233.2a1.1 1.1 0 1 0 2.2 0a1.1 1.1 0 1 0 -2.2 0M427.8 233.2a1.1 1.1 0 1 0 2.2 0a1.1 1.1 0 1 0 -2.2 0M430.2 233.2a1.1 1.1 0 1 0 2.2 0a1.1 1.1 0 1 0 -2.2 0M432.5 233.2a1.1 1.1 0 1 0 2.2 0a1.1 1.1 0 1 0 -2.2 0M434.9 233.2a1.1 1.1 0 1 0 2.2 0a1.1 1.1 0 1 0 -2.2 0M436.9 233.2a1.1 1.1 0 1 0 2.2 0a1.1 1.1 0 1 0 -2.2 0M440.1 233.2a1.1 1.1 0 1 0 2.2 0a1.1 1.1 0 1 0 -2.2 0M421.6 221.0a1.1 1.1 0 1 0 2.2 0a1.1 1.1 0 1 0 -2.2 0M424.9 221.0a1.1 1.1 0 1 0 2.2 0a1.1 1.1 0 1 0 -2.2 0M427.9 221.0a1.1 1.1 0 1 0 2.2 0a1.1 1.1 0 1 0 -2.2 0M430.8 221.0a1.1 1.1 0 1 0 2.2 0a1.1 1.1 0 1 0 -2.2 0M433.2 221.0a1.1 1.1 0 1 0 2.2 0a1.1 1.1 0 1 0 -2.2 0M435.1 221.0a1.1 1.1 0 1 0 2.2 0a1.1 1.1 0 1 0 -2.2 0M437.5 221.0a1.1 1.1 0 1 0 2.2 0a1.1 1.1 0 1 0 -2.2 0M439.3 221.0a1.1 1.1 0 1 0 2.2 0a1.1 1.1 0 1 0 -2.2 0M420.9 208.8a1.1 1.1 0 1 0 2.2 0a1.1 1.1 0 1 0 -2.2 0M422.2 208.8a1.1 1.1 0 1 0 2.2 0a1.1 1.1 0 1 0 -2.2 0M425.3 208.8a1.1 1.1 0 1 0 2.2 0a1.1 1.1 0 1 0 -2.2 0M427.8 208.8a1.1 1.1 0 1 0 2.2 0a1.1 1.1 0 1 0 -2.2 0M430.3 208.8a1.1 1.1 0 1 0 2.2 0a1.1 1.1 0 1 0 -2.2 0M432.8 208.8a1.1 1.1 0 1 0 2.2 0a1.1 1.1 0 1 0 -2.2 0M435.3 208.8a1.1 1.1 0 1 0 2.2 0a1.1 1.1 0 1 0 -2.2 0M437.8 208.8a1.1 1.1 0 1 0 2.2 0a1.1 1.1 0 1 0 -2.2 0M420.3 196.6a1.1 1.1 0 1 0 2.2 0a1.1 1.1 0 1 0 -2.2 0M422.8 196.6a1.1 1.1 0 1 0 2.2 0a1.1 1.1 0 1 0 -2.2 0M425.2 196.6a1.1 1.1 0 1 0 2.2 0a1.1 1.1 0 1 0 -2.2 0M427.6 196.6a1.1 1.1 0 1 0 2.2 0a1.1 1.1 0 1 0 -2.2 0M430.0 196.6a1.1 1.1 0 1 0 2.2 0a1.1 1.1 0 1 0 -2.2 0M432.4 196.6a1.1 1.1 0 1 0 2.2 0a1.1 1.1 0 1 0 -2.2 0M434.8 196.6a1.1 1.1 0 1 0 2.2 0a1.1 1.1 0 1 0 -2.2 0M437.3 196.6a1.1 1.1 0 1 0 2.2 0a1.1 1.1 0 1 0 -2.2 0M439.7 196.6a1.1 1.1 0 1 0 2.2 0a1.1 1.1 0 1 0 -2.2 0M422.2 184.4a1.1 1.1 0 1 0 2.2 0a1.1 1.1 0 1 0 -2.2 0M424.9 184.4a1.1 1.1 0 1 0 2.2 0a1.1 1.1 0 1 0 -2.2 0M428.3 184.4a1.1 1.1 0 1 0 2.2 0a1.1 1.1 0 1 0 -2.2 0M434.5 184.4a1.1 1.1 0 1 0 2.2 0a1.1 1.1 0 1 0 -2.2 0M436.9 184.4a1.1 1.1 0 1 0 2.2 0a1.1 1.1 0 1 0 -2.2 0M438.8 184.4a1.1 1.1 0 1 0 2.2 0a1.1 1.1 0 1 0 -2.2 0M421.6 172.2a1.1 1.1 0 1 0 2.2 0a1.1 1.1 0 1 0 -2.2 0M425.9 172.2a1.1 1.1 0 1 0 2.2 0a1.1 1.1 0 1 0 -2.2 0M428.6 172.2a1.1 1.1 0 1 0 2.2 0a1.1 1.1 0 1 0 -2.2 0M431.4 172.2a1.1 1.1 0 1 0 2.2 0a1.1 1.1 0 1 0 -2.2 0M436.0 172.2a1.1 1.1 0 1 0 2.2 0a1.1 1.1 0 1 0 -2.2 0M437.5 172.2a1.1 1.1 0 1 0 2.2 0a1.1 1.1 0 1 0 -2.2 0M420.9 160.0a1.1 1.1 0 1 0 2.2 0a1.1 1.1 0 1 0 -2.2 0M423.5 160.0a1.1 1.1 0 1 0 2.2 0a1.1 1.1 0 1 0 -2.2 0M427.2 160.0a1.1 1.1 0 1 0 2.2 0a1.1 1.1 0 1 0 -2.2 0M429.3 160.0a1.1 1.1 0 1 0 2.2 0a1.1 1.1 0 1 0 -2.2 0M431.4 160.0a1.1 1.1 0 1 0 2.2 0a1.1 1.1 0 1 0 -2.2 0M436.9 160.0a1.1 1.1 0 1 0 2.2 0a1.1 1.1 0 1 0 -2.2 0M438.8 160.0a1.1 1.1 0 1 0 2.2 0a1.1 1.1 0 1 0 -2.2 0M421.3 147.7a1.1 1.1 0 1 0 2.2 0a1.1 1.1 0 1 0 -2.2 0M424.6 147.7a1.1 1.1 0 1 0 2.2 0a1.1 1.1 0 1 0 -2.2 0M439.3 147.7a1.1 1.1 0 1 0 2.2 0a1.1 1.1 0 1 0 -2.2 0M424.6 135.5a1.1 1.1 0 1 0 2.2 0a1.1 1.1 0 1 0 -2.2 0M430.1 135.5a1.1 1.1 0 1 0 2.2 0a1.1 1.1 0 1 0 -2.2 0M431.9 135.5a1.1 1.1 0 1 0 2.2 0a1.1 1.1 0 1 0 -2.2 0M434.2 135.5a1.1 1.1 0 1 0 2.2 0a1.1 1.1 0 1 0 -2.2 0M436.9 123.3a1.1 1.1 0 1 0 2.2 0a1.1 1.1 0 1 0 -2.2 0M438.8 123.3a1.1 1.1 0 1 0 2.2 0a1.1 1.1 0 1 0 -2.2 0M424.6 111.1a1.1 1.1 0 1 0 2.2 0a1.1 1.1 0 1 0 -2.2 0M436.9 111.1a1.1 1.1 0 1 0 2.2 0a1.1 1.1 0 1 0 -2.2 0M420.9 86.7a1.1 1.1 0 1 0 2.2 0a1.1 1.1 0 1 0 -2.2 0M422.7 86.7a1.1 1.1 0 1 0 2.2 0a1.1 1.1 0 1 0 -2.2 0M430.8 86.7a1.1 1.1 0 1 0 2.2 0a1.1 1.1 0 1 0 -2.2 0M437.8 86.7a1.1 1.1 0 1 0 2.2 0a1.1 1.1 0 1 0 -2.2 0M483.3 451.9a1.1 1.1 0 1 0 2.2 0a1.1 1.1 0 1 0 -2.2 0M485.7 451.9a1.1 1.1 0 1 0 2.2 0a1.1 1.1 0 1 0 -2.2 0M488.1 451.9a1.1 1.1 0 1 0 2.2 0a1.1 1.1 0 1 0 -2.2 0M492.8 451.9a1.1 1.1 0 1 0 2.2 0a1.1 1.1 0 1 0 -2.2 0M484.7 404.2a1.1 1.1 0 1 0 2.2 0a1.1 1.1 0 1 0 -2.2 0M497.6 391.9a1.1 1.1 0 1 0 2.2 0a1.1 1.1 0 1 0 -2.2 0M491.7 379.7a1.1 1.1 0 1 0 2.2 0a1.1 1.1 0 1 0 -2.2 0M485.2 355.3a1.1 1.1 0 1 0 2.2 0a1.1 1.1 0 1 0 -2.2 0M492.8 355.3a1.1 1.1 0 1 0 2.2 0a1.1 1.1 0 1 0 -2.2 0M496.4 355.3a1.1 1.1 0 1 0 2.2 0a1.1 1.1 0 1 0 -2.2 0M498.1 355.3a1.1 1.1 0 1 0 2.2 0a1.1 1.1 0 1 0 -2.2 0M487.2 343.1a1.1 1.1 0 1 0 2.2 0a1.1 1.1 0 1 0 -2.2 0M491.2 343.1a1.1 1.1 0 1 0 2.2 0a1.1 1.1 0 1 0 -2.2 0M501.6 343.1a1.1 1.1 0 1 0 2.2 0a1.1 1.1 0 1 0 -2.2 0M483.9 330.9a1.1 1.1 0 1 0 2.2 0a1.1 1.1 0 1 0 -2.2 0M485.4 330.9a1.1 1.1 0 1 0 2.2 0a1.1 1.1 0 1 0 -2.2 0M490.3 330.9a1.1 1.1 0 1 0 2.2 0a1.1 1.1 0 1 0 -2.2 0M502.9 330.9a1.1 1.1 0 1 0 2.2 0a1.1 1.1 0 1 0 -2.2 0M485.4 318.7a1.1 1.1 0 1 0 2.2 0a1.1 1.1 0 1 0 -2.2 0M490.9 318.7a1.1 1.1 0 1 0 2.2 0a1.1 1.1 0 1 0 -2.2 0M492.2 318.7a1.1 1.1 0 1 0 2.2 0a1.1 1.1 0 1 0 -2.2 0M502.9 318.7a1.1 1.1 0 1 0 2.2 0a1.1 1.1 0 1 0 -2.2 0M487.6 306.5a1.1 1.1 0 1 0 2.2 0a1.1 1.1 0 1 0 -2.2 0M489.0 306.5a1.1 1.1 0 1 0 2.2 0a1.1 1.1 0 1 0 -2.2 0M492.2 306.5a1.1 1.1 0 1 0 2.2 0a1.1 1.1 0 1 0 -2.2 0M495.1 306.5a1.1 1.1 0 1 0 2.2 0a1.1 1.1 0 1 0 -2.2 0M498.1 306.5a1.1 1.1 0 1 0 2.2 0a1.1 1.1 0 1 0 -2.2 0M501.6 306.5a1.1 1.1 0 1 0 2.2 0a1.1 1.1 0 1 0 -2.2 0M489.0 294.3a1.1 1.1 0 1 0 2.2 0a1.1 1.1 0 1 0 -2.2 0M491.5 294.3a1.1 1.1 0 1 0 2.2 0a1.1 1.1 0 1 0 -2.2 0M493.9 294.3a1.1 1.1 0 1 0 2.2 0a1.1 1.1 0 1 0 -2.2 0M496.4 294.3a1.1 1.1 0 1 0 2.2 0a1.1 1.1 0 1 0 -2.2 0M498.6 294.3a1.1 1.1 0 1 0 2.2 0a1.1 1.1 0 1 0 -2.2 0M502.3 294.3a1.1 1.1 0 1 0 2.2 0a1.1 1.1 0 1 0 -2.2 0M485.7 282.1a1.1 1.1 0 1 0 2.2 0a1.1 1.1 0 1 0 -2.2 0M488.7 282.1a1.1 1.1 0 1 0 2.2 0a1.1 1.1 0 1 0 -2.2 0M491.2 282.1a1.1 1.1 0 1 0 2.2 0a1.1 1.1 0 1 0 -2.2 0M493.5 282.1a1.1 1.1 0 1 0 2.2 0a1.1 1.1 0 1 0 -2.2 0M495.7 282.1a1.1 1.1 0 1 0 2.2 0a1.1 1.1 0 1 0 -2.2 0M497.9 282.1a1.1 1.1 0 1 0 2.2 0a1.1 1.1 0 1 0 -2.2 0M500.1 282.1a1.1 1.1 0 1 0 2.2 0a1.1 1.1 0 1 0 -2.2 0M502.3 282.1a1.1 1.1 0 1 0 2.2 0a1.1 1.1 0 1 0 -2.2 0M483.9 269.9a1.1 1.1 0 1 0 2.2 0a1.1 1.1 0 1 0 -2.2 0M486.4 269.9a1.1 1.1 0 1 0 2.2 0a1.1 1.1 0 1 0 -2.2 0M488.9 269.9a1.1 1.1 0 1 0 2.2 0a1.1 1.1 0 1 0 -2.2 0M491.5 269.9a1.1 1.1 0 1 0 2.2 0a1.1 1.1 0 1 0 -2.2 0M494.0 269.9a1.1 1.1 0 1 0 2.2 0a1.1 1.1 0 1 0 -2.2 0M496.5 269.9a1.1 1.1 0 1 0 2.2 0a1.1 1.1 0 1 0 -2.2 0M499.1 269.9a1.1 1.1 0 1 0 2.2 0a1.1 1.1 0 1 0 -2.2 0M501.6 269.9a1.1 1.1 0 1 0 2.2 0a1.1 1.1 0 1 0 -2.2 0M504.1 269.9a1.1 1.1 0 1 0 2.2 0a1.1 1.1 0 1 0 -2.2 0M484.2 257.6a1.1 1.1 0 1 0 2.2 0a1.1 1.1 0 1 0 -2.2 0M486.8 257.6a1.1 1.1 0 1 0 2.2 0a1.1 1.1 0 1 0 -2.2 0M489.4 257.6a1.1 1.1 0 1 0 2.2 0a1.1 1.1 0 1 0 -2.2 0M492.2 257.6a1.1 1.1 0 1 0 2.2 0a1.1 1.1 0 1 0 -2.2 0M493.6 257.6a1.1 1.1 0 1 0 2.2 0a1.1 1.1 0 1 0 -2.2 0M497.7 257.6a1.1 1.1 0 1 0 2.2 0a1.1 1.1 0 1 0 -2.2 0M499.8 257.6a1.1 1.1 0 1 0 2.2 0a1.1 1.1 0 1 0 -2.2 0M502.0 257.6a1.1 1.1 0 1 0 2.2 0a1.1 1.1 0 1 0 -2.2 0M504.1 257.6a1.1 1.1 0 1 0 2.2 0a1.1 1.1 0 1 0 -2.2 0M484.8 245.4a1.1 1.1 0 1 0 2.2 0a1.1 1.1 0 1 0 -2.2 0M487.2 245.4a1.1 1.1 0 1 0 2.2 0a1.1 1.1 0 1 0 -2.2 0M489.6 245.4a1.1 1.1 0 1 0 2.2 0a1.1 1.1 0 1 0 -2.2 0M492.0 245.4a1.1 1.1 0 1 0 2.2 0a1.1 1.1 0 1 0 -2.2 0M494.4 245.4a1.1 1.1 0 1 0 2.2 0a1.1 1.1 0 1 0 -2.2 0M496.8 245.4a1.1 1.1 0 1 0 2.2 0a1.1 1.1 0 1 0 -2.2 0M499.2 245.4a1.1 1.1 0 1 0 2.2 0a1.1 1.1 0 1 0 -2.2 0M501.6 245.4a1.1 1.1 0 1 0 2.2 0a1.1 1.1 0 1 0 -2.2 0M504.0 245.4a1.1 1.1 0 1 0 2.2 0a1.1 1.1 0 1 0 -2.2 0M483.5 233.2a1.1 1.1 0 1 0 2.2 0a1.1 1.1 0 1 0 -2.2 0M485.8 233.2a1.1 1.1 0 1 0 2.2 0a1.1 1.1 0 1 0 -2.2 0M488.0 233.2a1.1 1.1 0 1 0 2.2 0a1.1 1.1 0 1 0 -2.2 0M490.3 233.2a1.1 1.1 0 1 0 2.2 0a1.1 1.1 0 1 0 -2.2 0M492.5 233.2a1.1 1.1 0 1 0 2.2 0a1.1 1.1 0 1 0 -2.2 0M494.8 233.2a1.1 1.1 0 1 0 2.2 0a1.1 1.1 0 1 0 -2.2 0M497.0 233.2a1.1 1.1 0 1 0 2.2 0a1.1 1.1 0 1 0 -2.2 0M499.3 233.2a1.1 1.1 0 1 0 2.2 0a1.1 1.1 0 1 0 -2.2 0M501.6 233.2a1.1 1.1 0 1 0 2.2 0a1.1 1.1 0 1 0 -2.2 0M483.9 221.0a1.1 1.1 0 1 0 2.2 0a1.1 1.1 0 1 0 -2.2 0M487.2 221.0a1.1 1.1 0 1 0 2.2 0a1.1 1.1 0 1 0 -2.2 0M491.2 221.0a1.1 1.1 0 1 0 2.2 0a1.1 1.1 0 1 0 -2.2 0M493.6 221.0a1.1 1.1 0 1 0 2.2 0a1.1 1.1 0 1 0 -2.2 0M496.0 221.0a1.1 1.1 0 1 0 2.2 0a1.1 1.1 0 1 0 -2.2 0M498.3 221.0a1.1 1.1 0 1 0 2.2 0a1.1 1.1 0 1 0 -2.2 0M500.7 221.0a1.1 1.1 0 1 0 2.2 0a1.1 1.1 0 1 0 -2.2 0M503.0 221.0a1.1 1.1 0 1 0 2.2 0a1.1 1.1 0 1 0 -2.2 0M483.0 208.8a1.1 1.1 0 1 0 2.2 0a1.1 1.1 0 1 0 -2.2 0M485.9 208.8a1.1 1.1 0 1 0 2.2 0a1.1 1.1 0 1 0 -2.2 0M488.5 208.8a1.1 1.1 0 1 0 2.2 0a1.1 1.1 0 1 0 -2.2 0M494.0 208.8a1.1 1.1 0 1 0 2.2 0a1.1 1.1 0 1 0 -2.2 0M496.5 208.8a1.1 1.1 0 1 0 2.2 0a1.1 1.1 0 1 0 -2.2 0M499.1 208.8a1.1 1.1 0 1 0 2.2 0a1.1 1.1 0 1 0 -2.2 0M501.6 208.8a1.1 1.1 0 1 0 2.2 0a1.1 1.1 0 1 0 -2.2 0M504.1 208.8a1.1 1.1 0 1 0 2.2 0a1.1 1.1 0 1 0 -2.2 0M483.0 196.6a1.1 1.1 0 1 0 2.2 0a1.1 1.1 0 1 0 -2.2 0M485.4 196.6a1.1 1.1 0 1 0 2.2 0a1.1 1.1 0 1 0 -2.2 0M487.8 196.6a1.1 1.1 0 1 0 2.2 0a1.1 1.1 0 1 0 -2.2 0M490.2 196.6a1.1 1.1 0 1 0 2.2 0a1.1 1.1 0 1 0 -2.2 0M492.6 196.6a1.1 1.1 0 1 0 2.2 0a1.1 1.1 0 1 0 -2.2 0M495.0 196.6a1.1 1.1 0 1 0 2.2 0a1.1 1.1 0 1 0 -2.2 0M497.5 196.6a1.1 1.1 0 1 0 2.2 0a1.1 1.1 0 1 0 -2.2 0M499.9 196.6a1.1 1.1 0 1 0 2.2 0a1.1 1.1 0 1 0 -2.2 0M502.3 196.6a1.1 1.1 0 1 0 2.2 0a1.1 1.1 0 1 0 -2.2 0M485.4 184.4a1.1 1.1 0 1 0 2.2 0a1.1 1.1 0 1 0 -2.2 0M487.9 184.4a1.1 1.1 0 1 0 2.2 0a1.1 1.1 0 1 0 -2.2 0M490.4 184.4a1.1 1.1 0 1 0 2.2 0a1.1 1.1 0 1 0 -2.2 0M492.9 184.4a1.1 1.1 0 1 0 2.2 0a1.1 1.1 0 1 0 -2.2 0M495.5 184.4a1.1 1.1 0 1 0 2.2 0a1.1 1.1 0 1 0 -2.2 0M498.0 184.4a1.1 1.1 0 1 0 2.2 0a1.1 1.1 0 1 0 -2.2 0M500.5 184.4a1.1 1.1 0 1 0 2.2 0a1.1 1.1 0 1 0 -2.2 0M503.0 184.4a1.1 1.1 0 1 0 2.2 0a1.1 1.1 0 1 0 -2.2 0M487.2 172.2a1.1 1.1 0 1 0 2.2 0a1.1 1.1 0 1 0 -2.2 0M489.8 172.2a1.1 1.1 0 1 0 2.2 0a1.1 1.1 0 1 0 -2.2 0M492.4 172.2a1.1 1.1 0 1 0 2.2 0a1.1 1.1 0 1 0 -2.2 0M494.9 172.2a1.1 1.1 0 1 0 2.2 0a1.1 1.1 0 1 0 -2.2 0M501.9 172.2a1.1 1.1 0 1 0 2.2 0a1.1 1.1 0 1 0 -2.2 0M487.2 160.0a1.1 1.1 0 1 0 2.2 0a1.1 1.1 0 1 0 -2.2 0M489.7 160.0a1.1 1.1 0 1 0 2.2 0a1.1 1.1 0 1 0 -2.2 0M492.1 160.0a1.1 1.1 0 1 0 2.2 0a1.1 1.1 0 1 0 -2.2 0M494.6 160.0a1.1 1.1 0 1 0 2.2 0a1.1 1.1 0 1 0 -2.2 0M499.5 160.0a1.1 1.1 0 1 0 2.2 0a1.1 1.1 0 1 0 -2.2 0M500.8 160.0a1.1 1.1 0 1 0 2.2 0a1.1 1.1 0 1 0 -2.2 0M486.3 147.7a1.1 1.1 0 1 0 2.2 0a1.1 1.1 0 1 0 -2.2 0M487.9 147.7a1.1 1.1 0 1 0 2.2 0a1.1 1.1 0 1 0 -2.2 0M494.6 147.7a1.1 1.1 0 1 0 2.2 0a1.1 1.1 0 1 0 -2.2 0M483.0 135.5a1.1 1.1 0 1 0 2.2 0a1.1 1.1 0 1 0 -2.2 0M485.9 135.5a1.1 1.1 0 1 0 2.2 0a1.1 1.1 0 1 0 -2.2 0M489.4 135.5a1.1 1.1 0 1 0 2.2 0a1.1 1.1 0 1 0 -2.2 0M490.9 135.5a1.1 1.1 0 1 0 2.2 0a1.1 1.1 0 1 0 -2.2 0M496.8 135.5a1.1 1.1 0 1 0 2.2 0a1.1 1.1 0 1 0 -2.2 0M501.4 135.5a1.1 1.1 0 1 0 2.2 0a1.1 1.1 0 1 0 -2.2 0M502.7 135.5a1.1 1.1 0 1 0 2.2 0a1.1 1.1 0 1 0 -2.2 0M490.3 123.3a1.1 1.1 0 1 0 2.2 0a1.1 1.1 0 1 0 -2.2 0M492.7 123.3a1.1 1.1 0 1 0 2.2 0a1.1 1.1 0 1 0 -2.2 0M494.0 123.3a1.1 1.1 0 1 0 2.2 0a1.1 1.1 0 1 0 -2.2 0M483.9 111.1a1.1 1.1 0 1 0 2.2 0a1.1 1.1 0 1 0 -2.2 0M486.6 86.7a1.1 1.1 0 1 0 2.2 0a1.1 1.1 0 1 0 -2.2 0M489.4 86.7a1.1 1.1 0 1 0 2.2 0a1.1 1.1 0 1 0 -2.2 0M492.1 86.7a1.1 1.1 0 1 0 2.2 0a1.1 1.1 0 1 0 -2.2 0M494.7 86.7a1.1 1.1 0 1 0 2.2 0a1.1 1.1 0 1 0 -2.2 0M497.4 86.7a1.1 1.1 0 1 0 2.2 0a1.1 1.1 0 1 0 -2.2 0M500.1 86.7a1.1 1.1 0 1 0 2.2 0a1.1 1.1 0 1 0 -2.2 0M547.3 451.9a1.1 1.1 0 1 0 2.2 0a1.1 1.1 0 1 0 -2.2 0M549.6 451.9a1.1 1.1 0 1 0 2.2 0a1.1 1.1 0 1 0 -2.2 0M552.0 451.9a1.1 1.1 0 1 0 2.2 0a1.1 1.1 0 1 0 -2.2 0M554.4 451.9a1.1 1.1 0 1 0 2.2 0a1.1 1.1 0 1 0 -2.2 0M556.7 451.9a1.1 1.1 0 1 0 2.2 0a1.1 1.1 0 1 0 -2.2 0M559.1 451.9a1.1 1.1 0 1 0 2.2 0a1.1 1.1 0 1 0 -2.2 0M561.4 451.9a1.1 1.1 0 1 0 2.2 0a1.1 1.1 0 1 0 -2.2 0M563.8 451.9a1.1 1.1 0 1 0 2.2 0a1.1 1.1 0 1 0 -2.2 0M566.2 451.9a1.1 1.1 0 1 0 2.2 0a1.1 1.1 0 1 0 -2.2 0M561.6 440.8a1.1 1.1 0 1 0 2.2 0a1.1 1.1 0 1 0 -2.2 0M557.6 428.6a1.1 1.1 0 1 0 2.2 0a1.1 1.1 0 1 0 -2.2 0M559.2 428.6a1.1 1.1 0 1 0 2.2 0a1.1 1.1 0 1 0 -2.2 0M547.3 416.4a1.1 1.1 0 1 0 2.2 0a1.1 1.1 0 1 0 -2.2 0M549.9 416.4a1.1 1.1 0 1 0 2.2 0a1.1 1.1 0 1 0 -2.2 0M552.5 416.4a1.1 1.1 0 1 0 2.2 0a1.1 1.1 0 1 0 -2.2 0M548.0 404.2a1.1 1.1 0 1 0 2.2 0a1.1 1.1 0 1 0 -2.2 0M552.1 404.2a1.1 1.1 0 1 0 2.2 0a1.1 1.1 0 1 0 -2.2 0M561.6 404.2a1.1 1.1 0 1 0 2.2 0a1.1 1.1 0 1 0 -2.2 0M565.2 404.2a1.1 1.1 0 1 0 2.2 0a1.1 1.1 0 1 0 -2.2 0M548.0 391.9a1.1 1.1 0 1 0 2.2 0a1.1 1.1 0 1 0 -2.2 0M562.8 391.9a1.1 1.1 0 1 0 2.2 0a1.1 1.1 0 1 0 -2.2 0M566.4 391.9a1.1 1.1 0 1 0 2.2 0a1.1 1.1 0 1 0 -2.2 0M549.7 379.7a1.1 1.1 0 1 0 2.2 0a1.1 1.1 0 1 0 -2.2 0M551.3 379.7a1.1 1.1 0 1 0 2.2 0a1.1 1.1 0 1 0 -2.2 0M555.6 379.7a1.1 1.1 0 1 0 2.2 0a1.1 1.1 0 1 0 -2.2 0M557.6 379.7a1.1 1.1 0 1 0 2.2 0a1.1 1.1 0 1 0 -2.2 0M559.5 379.7a1.1 1.1 0 1 0 2.2 0a1.1 1.1 0 1 0 -2.2 0M548.0 367.5a1.1 1.1 0 1 0 2.2 0a1.1 1.1 0 1 0 -2.2 0M549.9 367.5a1.1 1.1 0 1 0 2.2 0a1.1 1.1 0 1 0 -2.2 0M551.8 367.5a1.1 1.1 0 1 0 2.2 0a1.1 1.1 0 1 0 -2.2 0M560.4 367.5a1.1 1.1 0 1 0 2.2 0a1.1 1.1 0 1 0 -2.2 0M562.3 367.5a1.1 1.1 0 1 0 2.2 0a1.1 1.1 0 1 0 -2.2 0M566.4 367.5a1.1 1.1 0 1 0 2.2 0a1.1 1.1 0 1 0 -2.2 0M548.9 355.3a1.1 1.1 0 1 0 2.2 0a1.1 1.1 0 1 0 -2.2 0M551.5 355.3a1.1 1.1 0 1 0 2.2 0a1.1 1.1 0 1 0 -2.2 0M554.1 355.3a1.1 1.1 0 1 0 2.2 0a1.1 1.1 0 1 0 -2.2 0M556.6 355.3a1.1 1.1 0 1 0 2.2 0a1.1 1.1 0 1 0 -2.2 0M560.0 355.3a1.1 1.1 0 1 0 2.2 0a1.1 1.1 0 1 0 -2.2 0M562.3 355.3a1.1 1.1 0 1 0 2.2 0a1.1 1.1 0 1 0 -2.2 0M564.6 355.3a1.1 1.1 0 1 0 2.2 0a1.1 1.1 0 1 0 -2.2 0M566.9 355.3a1.1 1.1 0 1 0 2.2 0a1.1 1.1 0 1 0 -2.2 0M547.2 343.1a1.1 1.1 0 1 0 2.2 0a1.1 1.1 0 1 0 -2.2 0M549.6 343.1a1.1 1.1 0 1 0 2.2 0a1.1 1.1 0 1 0 -2.2 0M552.1 343.1a1.1 1.1 0 1 0 2.2 0a1.1 1.1 0 1 0 -2.2 0M554.6 343.1a1.1 1.1 0 1 0 2.2 0a1.1 1.1 0 1 0 -2.2 0M557.0 343.1a1.1 1.1 0 1 0 2.2 0a1.1 1.1 0 1 0 -2.2 0M559.5 343.1a1.1 1.1 0 1 0 2.2 0a1.1 1.1 0 1 0 -2.2 0M561.9 343.1a1.1 1.1 0 1 0 2.2 0a1.1 1.1 0 1 0 -2.2 0M565.6 343.1a1.1 1.1 0 1 0 2.2 0a1.1 1.1 0 1 0 -2.2 0M547.2 330.9a1.1 1.1 0 1 0 2.2 0a1.1 1.1 0 1 0 -2.2 0M549.8 330.9a1.1 1.1 0 1 0 2.2 0a1.1 1.1 0 1 0 -2.2 0M552.3 330.9a1.1 1.1 0 1 0 2.2 0a1.1 1.1 0 1 0 -2.2 0M554.9 330.9a1.1 1.1 0 1 0 2.2 0a1.1 1.1 0 1 0 -2.2 0M557.5 330.9a1.1 1.1 0 1 0 2.2 0a1.1 1.1 0 1 0 -2.2 0M561.0 330.9a1.1 1.1 0 1 0 2.2 0a1.1 1.1 0 1 0 -2.2 0M563.9 330.9a1.1 1.1 0 1 0 2.2 0a1.1 1.1 0 1 0 -2.2 0M566.9 330.9a1.1 1.1 0 1 0 2.2 0a1.1 1.1 0 1 0 -2.2 0M546.6 318.7a1.1 1.1 0 1 0 2.2 0a1.1 1.1 0 1 0 -2.2 0M549.6 318.7a1.1 1.1 0 1 0 2.2 0a1.1 1.1 0 1 0 -2.2 0M551.8 318.7a1.1 1.1 0 1 0 2.2 0a1.1 1.1 0 1 0 -2.2 0M554.2 318.7a1.1 1.1 0 1 0 2.2 0a1.1 1.1 0 1 0 -2.2 0M556.6 318.7a1.1 1.1 0 1 0 2.2 0a1.1 1.1 0 1 0 -2.2 0M559.2 318.7a1.1 1.1 0 1 0 2.2 0a1.1 1.1 0 1 0 -2.2 0M561.4 318.7a1.1 1.1 0 1 0 2.2 0a1.1 1.1 0 1 0 -2.2 0M563.6 318.7a1.1 1.1 0 1 0 2.2 0a1.1 1.1 0 1 0 -2.2 0M565.6 318.7a1.1 1.1 0 1 0 2.2 0a1.1 1.1 0 1 0 -2.2 0M546.6 306.5a1.1 1.1 0 1 0 2.2 0a1.1 1.1 0 1 0 -2.2 0M548.8 306.5a1.1 1.1 0 1 0 2.2 0a1.1 1.1 0 1 0 -2.2 0M551.1 306.5a1.1 1.1 0 1 0 2.2 0a1.1 1.1 0 1 0 -2.2 0M553.6 306.5a1.1 1.1 0 1 0 2.2 0a1.1 1.1 0 1 0 -2.2 0M555.1 306.5a1.1 1.1 0 1 0 2.2 0a1.1 1.1 0 1 0 -2.2 0M557.3 306.5a1.1 1.1 0 1 0 2.2 0a1.1 1.1 0 1 0 -2.2 0M559.5 306.5a1.1 1.1 0 1 0 2.2 0a1.1 1.1 0 1 0 -2.2 0M561.7 306.5a1.1 1.1 0 1 0 2.2 0a1.1 1.1 0 1 0 -2.2 0M563.9 306.5a1.1 1.1 0 1 0 2.2 0a1.1 1.1 0 1 0 -2.2 0M566.2 306.5a1.1 1.1 0 1 0 2.2 0a1.1 1.1 0 1 0 -2.2 0M547.2 294.3a1.1 1.1 0 1 0 2.2 0a1.1 1.1 0 1 0 -2.2 0M549.6 294.3a1.1 1.1 0 1 0 2.2 0a1.1 1.1 0 1 0 -2.2 0M552.1 294.3a1.1 1.1 0 1 0 2.2 0a1.1 1.1 0 1 0 -2.2 0M554.6 294.3a1.1 1.1 0 1 0 2.2 0a1.1 1.1 0 1 0 -2.2 0M558.2 294.3a1.1 1.1 0 1 0 2.2 0a1.1 1.1 0 1 0 -2.2 0M560.7 294.3a1.1 1.1 0 1 0 2.2 0a1.1 1.1 0 1 0 -2.2 0M563.1 294.3a1.1 1.1 0 1 0 2.2 0a1.1 1.1 0 1 0 -2.2 0M565.6 294.3a1.1 1.1 0 1 0 2.2 0a1.1 1.1 0 1 0 -2.2 0M547.2 282.1a1.1 1.1 0 1 0 2.2 0a1.1 1.1 0 1 0 -2.2 0M549.0 282.1a1.1 1.1 0 1 0 2.2 0a1.1 1.1 0 1 0 -2.2 0M561.0 282.1a1.1 1.1 0 1 0 2.2 0a1.1 1.1 0 1 0 -2.2 0M563.8 282.1a1.1 1.1 0 1 0 2.2 0a1.1 1.1 0 1 0 -2.2 0M548.5 269.9a1.1 1.1 0 1 0 2.2 0a1.1 1.1 0 1 0 -2.2 0M550.8 269.9a1.1 1.1 0 1 0 2.2 0a1.1 1.1 0 1 0 -2.2 0M553.2 269.9a1.1 1.1 0 1 0 2.2 0a1.1 1.1 0 1 0 -2.2 0M555.6 269.9a1.1 1.1 0 1 0 2.2 0a1.1 1.1 0 1 0 -2.2 0M557.9 269.9a1.1 1.1 0 1 0 2.2 0a1.1 1.1 0 1 0 -2.2 0M560.3 269.9a1.1 1.1 0 1 0 2.2 0a1.1 1.1 0 1 0 -2.2 0M562.7 269.9a1.1 1.1 0 1 0 2.2 0a1.1 1.1 0 1 0 -2.2 0M565.1 269.9a1.1 1.1 0 1 0 2.2 0a1.1 1.1 0 1 0 -2.2 0M545.9 257.6a1.1 1.1 0 1 0 2.2 0a1.1 1.1 0 1 0 -2.2 0M548.3 257.6a1.1 1.1 0 1 0 2.2 0a1.1 1.1 0 1 0 -2.2 0M550.7 257.6a1.1 1.1 0 1 0 2.2 0a1.1 1.1 0 1 0 -2.2 0M553.1 257.6a1.1 1.1 0 1 0 2.2 0a1.1 1.1 0 1 0 -2.2 0M555.5 257.6a1.1 1.1 0 1 0 2.2 0a1.1 1.1 0 1 0 -2.2 0M557.9 257.6a1.1 1.1 0 1 0 2.2 0a1.1 1.1 0 1 0 -2.2 0M560.3 257.6a1.1 1.1 0 1 0 2.2 0a1.1 1.1 0 1 0 -2.2 0M562.7 257.6a1.1 1.1 0 1 0 2.2 0a1.1 1.1 0 1 0 -2.2 0M565.1 257.6a1.1 1.1 0 1 0 2.2 0a1.1 1.1 0 1 0 -2.2 0M547.2 245.4a1.1 1.1 0 1 0 2.2 0a1.1 1.1 0 1 0 -2.2 0M549.7 245.4a1.1 1.1 0 1 0 2.2 0a1.1 1.1 0 1 0 -2.2 0M552.1 245.4a1.1 1.1 0 1 0 2.2 0a1.1 1.1 0 1 0 -2.2 0M554.6 245.4a1.1 1.1 0 1 0 2.2 0a1.1 1.1 0 1 0 -2.2 0M557.0 245.4a1.1 1.1 0 1 0 2.2 0a1.1 1.1 0 1 0 -2.2 0M559.5 245.4a1.1 1.1 0 1 0 2.2 0a1.1 1.1 0 1 0 -2.2 0M562.0 245.4a1.1 1.1 0 1 0 2.2 0a1.1 1.1 0 1 0 -2.2 0M564.4 245.4a1.1 1.1 0 1 0 2.2 0a1.1 1.1 0 1 0 -2.2 0M566.9 245.4a1.1 1.1 0 1 0 2.2 0a1.1 1.1 0 1 0 -2.2 0M549.0 233.2a1.1 1.1 0 1 0 2.2 0a1.1 1.1 0 1 0 -2.2 0M550.5 233.2a1.1 1.1 0 1 0 2.2 0a1.1 1.1 0 1 0 -2.2 0M553.6 233.2a1.1 1.1 0 1 0 2.2 0a1.1 1.1 0 1 0 -2.2 0M555.9 233.2a1.1 1.1 0 1 0 2.2 0a1.1 1.1 0 1 0 -2.2 0M558.2 233.2a1.1 1.1 0 1 0 2.2 0a1.1 1.1 0 1 0 -2.2 0M560.5 233.2a1.1 1.1 0 1 0 2.2 0a1.1 1.1 0 1 0 -2.2 0M562.8 233.2a1.1 1.1 0 1 0 2.2 0a1.1 1.1 0 1 0 -2.2 0M546.6 221.0a1.1 1.1 0 1 0 2.2 0a1.1 1.1 0 1 0 -2.2 0M549.6 221.0a1.1 1.1 0 1 0 2.2 0a1.1 1.1 0 1 0 -2.2 0M553.3 221.0a1.1 1.1 0 1 0 2.2 0a1.1 1.1 0 1 0 -2.2 0M556.2 221.0a1.1 1.1 0 1 0 2.2 0a1.1 1.1 0 1 0 -2.2 0M559.2 221.0a1.1 1.1 0 1 0 2.2 0a1.1 1.1 0 1 0 -2.2 0M561.9 221.0a1.1 1.1 0 1 0 2.2 0a1.1 1.1 0 1 0 -2.2 0M546.6 208.8a1.1 1.1 0 1 0 2.2 0a1.1 1.1 0 1 0 -2.2 0M549.6 208.8a1.1 1.1 0 1 0 2.2 0a1.1 1.1 0 1 0 -2.2 0M551.8 208.8a1.1 1.1 0 1 0 2.2 0a1.1 1.1 0 1 0 -2.2 0M555.1 208.8a1.1 1.1 0 1 0 2.2 0a1.1 1.1 0 1 0 -2.2 0M560.1 208.8a1.1 1.1 0 1 0 2.2 0a1.1 1.1 0 1 0 -2.2 0M561.4 208.8a1.1 1.1 0 1 0 2.2 0a1.1 1.1 0 1 0 -2.2 0M566.2 208.8a1.1 1.1 0 1 0 2.2 0a1.1 1.1 0 1 0 -2.2 0M549.0 196.6a1.1 1.1 0 1 0 2.2 0a1.1 1.1 0 1 0 -2.2 0M551.2 196.6a1.1 1.1 0 1 0 2.2 0a1.1 1.1 0 1 0 -2.2 0M553.4 196.6a1.1 1.1 0 1 0 2.2 0a1.1 1.1 0 1 0 -2.2 0M557.3 196.6a1.1 1.1 0 1 0 2.2 0a1.1 1.1 0 1 0 -2.2 0M559.5 196.6a1.1 1.1 0 1 0 2.2 0a1.1 1.1 0 1 0 -2.2 0M561.7 196.6a1.1 1.1 0 1 0 2.2 0a1.1 1.1 0 1 0 -2.2 0M563.8 196.6a1.1 1.1 0 1 0 2.2 0a1.1 1.1 0 1 0 -2.2 0M550.3 184.4a1.1 1.1 0 1 0 2.2 0a1.1 1.1 0 1 0 -2.2 0M555.1 184.4a1.1 1.1 0 1 0 2.2 0a1.1 1.1 0 1 0 -2.2 0M556.6 184.4a1.1 1.1 0 1 0 2.2 0a1.1 1.1 0 1 0 -2.2 0M563.8 184.4a1.1 1.1 0 1 0 2.2 0a1.1 1.1 0 1 0 -2.2 0M546.3 172.2a1.1 1.1 0 1 0 2.2 0a1.1 1.1 0 1 0 -2.2 0M547.7 172.2a1.1 1.1 0 1 0 2.2 0a1.1 1.1 0 1 0 -2.2 0M554.6 172.2a1.1 1.1 0 1 0 2.2 0a1.1 1.1 0 1 0 -2.2 0M559.5 172.2a1.1 1.1 0 1 0 2.2 0a1.1 1.1 0 1 0 -2.2 0M564.7 172.2a1.1 1.1 0 1 0 2.2 0a1.1 1.1 0 1 0 -2.2 0M566.2 172.2a1.1 1.1 0 1 0 2.2 0a1.1 1.1 0 1 0 -2.2 0M549.0 160.0a1.1 1.1 0 1 0 2.2 0a1.1 1.1 0 1 0 -2.2 0M553.3 160.0a1.1 1.1 0 1 0 2.2 0a1.1 1.1 0 1 0 -2.2 0M558.2 160.0a1.1 1.1 0 1 0 2.2 0a1.1 1.1 0 1 0 -2.2 0M549.0 147.7a1.1 1.1 0 1 0 2.2 0a1.1 1.1 0 1 0 -2.2 0M554.6 147.7a1.1 1.1 0 1 0 2.2 0a1.1 1.1 0 1 0 -2.2 0M561.6 147.7a1.1 1.1 0 1 0 2.2 0a1.1 1.1 0 1 0 -2.2 0M552.7 135.5a1.1 1.1 0 1 0 2.2 0a1.1 1.1 0 1 0 -2.2 0M556.4 135.5a1.1 1.1 0 1 0 2.2 0a1.1 1.1 0 1 0 -2.2 0M559.5 135.5a1.1 1.1 0 1 0 2.2 0a1.1 1.1 0 1 0 -2.2 0M564.3 135.5a1.1 1.1 0 1 0 2.2 0a1.1 1.1 0 1 0 -2.2 0M565.6 135.5a1.1 1.1 0 1 0 2.2 0a1.1 1.1 0 1 0 -2.2 0M547.7 123.3a1.1 1.1 0 1 0 2.2 0a1.1 1.1 0 1 0 -2.2 0M556.8 111.1a1.1 1.1 0 1 0 2.2 0a1.1 1.1 0 1 0 -2.2 0M557.3 86.7a1.1 1.1 0 1 0 2.2 0a1.1 1.1 0 1 0 -2.2 0M609.5 451.9a1.1 1.1 0 1 0 2.2 0a1.1 1.1 0 1 0 -2.2 0M612.0 451.9a1.1 1.1 0 1 0 2.2 0a1.1 1.1 0 1 0 -2.2 0M614.6 451.9a1.1 1.1 0 1 0 2.2 0a1.1 1.1 0 1 0 -2.2 0M617.1 451.9a1.1 1.1 0 1 0 2.2 0a1.1 1.1 0 1 0 -2.2 0M619.7 451.9a1.1 1.1 0 1 0 2.2 0a1.1 1.1 0 1 0 -2.2 0M622.2 451.9a1.1 1.1 0 1 0 2.2 0a1.1 1.1 0 1 0 -2.2 0M624.8 451.9a1.1 1.1 0 1 0 2.2 0a1.1 1.1 0 1 0 -2.2 0M627.4 451.9a1.1 1.1 0 1 0 2.2 0a1.1 1.1 0 1 0 -2.2 0M620.2 440.8a1.1 1.1 0 1 0 2.2 0a1.1 1.1 0 1 0 -2.2 0M625.0 440.8a1.1 1.1 0 1 0 2.2 0a1.1 1.1 0 1 0 -2.2 0M627.9 440.8a1.1 1.1 0 1 0 2.2 0a1.1 1.1 0 1 0 -2.2 0M611.9 428.6a1.1 1.1 0 1 0 2.2 0a1.1 1.1 0 1 0 -2.2 0M623.8 428.6a1.1 1.1 0 1 0 2.2 0a1.1 1.1 0 1 0 -2.2 0M613.1 416.4a1.1 1.1 0 1 0 2.2 0a1.1 1.1 0 1 0 -2.2 0M623.1 416.4a1.1 1.1 0 1 0 2.2 0a1.1 1.1 0 1 0 -2.2 0M625.0 416.4a1.1 1.1 0 1 0 2.2 0a1.1 1.1 0 1 0 -2.2 0M612.6 404.2a1.1 1.1 0 1 0 2.2 0a1.1 1.1 0 1 0 -2.2 0M615.9 404.2a1.1 1.1 0 1 0 2.2 0a1.1 1.1 0 1 0 -2.2 0M617.8 404.2a1.1 1.1 0 1 0 2.2 0a1.1 1.1 0 1 0 -2.2 0M628.6 404.2a1.1 1.1 0 1 0 2.2 0a1.1 1.1 0 1 0 -2.2 0M612.6 391.9a1.1 1.1 0 1 0 2.2 0a1.1 1.1 0 1 0 -2.2 0M621.4 391.9a1.1 1.1 0 1 0 2.2 0a1.1 1.1 0 1 0 -2.2 0M610.7 379.7a1.1 1.1 0 1 0 2.2 0a1.1 1.1 0 1 0 -2.2 0M617.8 379.7a1.1 1.1 0 1 0 2.2 0a1.1 1.1 0 1 0 -2.2 0M620.1 379.7a1.1 1.1 0 1 0 2.2 0a1.1 1.1 0 1 0 -2.2 0M622.4 379.7a1.1 1.1 0 1 0 2.2 0a1.1 1.1 0 1 0 -2.2 0M624.7 379.7a1.1 1.1 0 1 0 2.2 0a1.1 1.1 0 1 0 -2.2 0M627.0 379.7a1.1 1.1 0 1 0 2.2 0a1.1 1.1 0 1 0 -2.2 0M629.3 379.7a1.1 1.1 0 1 0 2.2 0a1.1 1.1 0 1 0 -2.2 0M617.8 367.5a1.1 1.1 0 1 0 2.2 0a1.1 1.1 0 1 0 -2.2 0M622.6 367.5a1.1 1.1 0 1 0 2.2 0a1.1 1.1 0 1 0 -2.2 0M613.1 355.3a1.1 1.1 0 1 0 2.2 0a1.1 1.1 0 1 0 -2.2 0M615.0 355.3a1.1 1.1 0 1 0 2.2 0a1.1 1.1 0 1 0 -2.2 0M620.2 355.3a1.1 1.1 0 1 0 2.2 0a1.1 1.1 0 1 0 -2.2 0M628.6 355.3a1.1 1.1 0 1 0 2.2 0a1.1 1.1 0 1 0 -2.2 0M609.8 343.1a1.1 1.1 0 1 0 2.2 0a1.1 1.1 0 1 0 -2.2 0M612.2 343.1a1.1 1.1 0 1 0 2.2 0a1.1 1.1 0 1 0 -2.2 0M614.5 343.1a1.1 1.1 0 1 0 2.2 0a1.1 1.1 0 1 0 -2.2 0M616.9 343.1a1.1 1.1 0 1 0 2.2 0a1.1 1.1 0 1 0 -2.2 0M619.2 343.1a1.1 1.1 0 1 0 2.2 0a1.1 1.1 0 1 0 -2.2 0M621.6 343.1a1.1 1.1 0 1 0 2.2 0a1.1 1.1 0 1 0 -2.2 0M623.6 343.1a1.1 1.1 0 1 0 2.2 0a1.1 1.1 0 1 0 -2.2 0M628.2 343.1a1.1 1.1 0 1 0 2.2 0a1.1 1.1 0 1 0 -2.2 0M609.8 330.9a1.1 1.1 0 1 0 2.2 0a1.1 1.1 0 1 0 -2.2 0M612.7 330.9a1.1 1.1 0 1 0 2.2 0a1.1 1.1 0 1 0 -2.2 0M614.8 330.9a1.1 1.1 0 1 0 2.2 0a1.1 1.1 0 1 0 -2.2 0M618.5 330.9a1.1 1.1 0 1 0 2.2 0a1.1 1.1 0 1 0 -2.2 0M621.8 330.9a1.1 1.1 0 1 0 2.2 0a1.1 1.1 0 1 0 -2.2 0M624.7 330.9a1.1 1.1 0 1 0 2.2 0a1.1 1.1 0 1 0 -2.2 0M627.7 330.9a1.1 1.1 0 1 0 2.2 0a1.1 1.1 0 1 0 -2.2 0M611.3 318.7a1.1 1.1 0 1 0 2.2 0a1.1 1.1 0 1 0 -2.2 0M614.2 318.7a1.1 1.1 0 1 0 2.2 0a1.1 1.1 0 1 0 -2.2 0M619.9 318.7a1.1 1.1 0 1 0 2.2 0a1.1 1.1 0 1 0 -2.2 0M622.1 318.7a1.1 1.1 0 1 0 2.2 0a1.1 1.1 0 1 0 -2.2 0M624.4 318.7a1.1 1.1 0 1 0 2.2 0a1.1 1.1 0 1 0 -2.2 0M626.6 318.7a1.1 1.1 0 1 0 2.2 0a1.1 1.1 0 1 0 -2.2 0M628.8 318.7a1.1 1.1 0 1 0 2.2 0a1.1 1.1 0 1 0 -2.2 0M609.8 306.5a1.1 1.1 0 1 0 2.2 0a1.1 1.1 0 1 0 -2.2 0M612.7 306.5a1.1 1.1 0 1 0 2.2 0a1.1 1.1 0 1 0 -2.2 0M615.0 306.5a1.1 1.1 0 1 0 2.2 0a1.1 1.1 0 1 0 -2.2 0M617.2 306.5a1.1 1.1 0 1 0 2.2 0a1.1 1.1 0 1 0 -2.2 0M619.4 306.5a1.1 1.1 0 1 0 2.2 0a1.1 1.1 0 1 0 -2.2 0M623.6 306.5a1.1 1.1 0 1 0 2.2 0a1.1 1.1 0 1 0 -2.2 0M625.8 306.5a1.1 1.1 0 1 0 2.2 0a1.1 1.1 0 1 0 -2.2 0M628.0 306.5a1.1 1.1 0 1 0 2.2 0a1.1 1.1 0 1 0 -2.2 0M609.8 294.3a1.1 1.1 0 1 0 2.2 0a1.1 1.1 0 1 0 -2.2 0M612.7 294.3a1.1 1.1 0 1 0 2.2 0a1.1 1.1 0 1 0 -2.2 0M615.9 294.3a1.1 1.1 0 1 0 2.2 0a1.1 1.1 0 1 0 -2.2 0M618.8 294.3a1.1 1.1 0 1 0 2.2 0a1.1 1.1 0 1 0 -2.2 0M621.8 294.3a1.1 1.1 0 1 0 2.2 0a1.1 1.1 0 1 0 -2.2 0M628.8 294.3a1.1 1.1 0 1 0 2.2 0a1.1 1.1 0 1 0 -2.2 0M612.2 282.1a1.1 1.1 0 1 0 2.2 0a1.1 1.1 0 1 0 -2.2 0M615.1 282.1a1.1 1.1 0 1 0 2.2 0a1.1 1.1 0 1 0 -2.2 0M618.1 282.1a1.1 1.1 0 1 0 2.2 0a1.1 1.1 0 1 0 -2.2 0M620.5 282.1a1.1 1.1 0 1 0 2.2 0a1.1 1.1 0 1 0 -2.2 0M623.0 282.1a1.1 1.1 0 1 0 2.2 0a1.1 1.1 0 1 0 -2.2 0M625.5 282.1a1.1 1.1 0 1 0 2.2 0a1.1 1.1 0 1 0 -2.2 0M610.7 269.9a1.1 1.1 0 1 0 2.2 0a1.1 1.1 0 1 0 -2.2 0M613.2 269.9a1.1 1.1 0 1 0 2.2 0a1.1 1.1 0 1 0 -2.2 0M615.6 269.9a1.1 1.1 0 1 0 2.2 0a1.1 1.1 0 1 0 -2.2 0M618.1 269.9a1.1 1.1 0 1 0 2.2 0a1.1 1.1 0 1 0 -2.2 0M620.9 269.9a1.1 1.1 0 1 0 2.2 0a1.1 1.1 0 1 0 -2.2 0M623.1 269.9a1.1 1.1 0 1 0 2.2 0a1.1 1.1 0 1 0 -2.2 0M625.3 269.9a1.1 1.1 0 1 0 2.2 0a1.1 1.1 0 1 0 -2.2 0M627.5 269.9a1.1 1.1 0 1 0 2.2 0a1.1 1.1 0 1 0 -2.2 0M629.7 269.9a1.1 1.1 0 1 0 2.2 0a1.1 1.1 0 1 0 -2.2 0M610.7 257.6a1.1 1.1 0 1 0 2.2 0a1.1 1.1 0 1 0 -2.2 0M618.1 257.6a1.1 1.1 0 1 0 2.2 0a1.1 1.1 0 1 0 -2.2 0M620.3 257.6a1.1 1.1 0 1 0 2.2 0a1.1 1.1 0 1 0 -2.2 0M622.5 257.6a1.1 1.1 0 1 0 2.2 0a1.1 1.1 0 1 0 -2.2 0M624.7 257.6a1.1 1.1 0 1 0 2.2 0a1.1 1.1 0 1 0 -2.2 0M626.9 257.6a1.1 1.1 0 1 0 2.2 0a1.1 1.1 0 1 0 -2.2 0M629.1 257.6a1.1 1.1 0 1 0 2.2 0a1.1 1.1 0 1 0 -2.2 0M610.7 245.4a1.1 1.1 0 1 0 2.2 0a1.1 1.1 0 1 0 -2.2 0M613.0 245.4a1.1 1.1 0 1 0 2.2 0a1.1 1.1 0 1 0 -2.2 0M615.2 245.4a1.1 1.1 0 1 0 2.2 0a1.1 1.1 0 1 0 -2.2 0M617.5 245.4a1.1 1.1 0 1 0 2.2 0a1.1 1.1 0 1 0 -2.2 0M619.7 245.4a1.1 1.1 0 1 0 2.2 0a1.1 1.1 0 1 0 -2.2 0M622.0 245.4a1.1 1.1 0 1 0 2.2 0a1.1 1.1 0 1 0 -2.2 0M624.3 245.4a1.1 1.1 0 1 0 2.2 0a1.1 1.1 0 1 0 -2.2 0M626.5 245.4a1.1 1.1 0 1 0 2.2 0a1.1 1.1 0 1 0 -2.2 0M628.8 245.4a1.1 1.1 0 1 0 2.2 0a1.1 1.1 0 1 0 -2.2 0M608.9 233.2a1.1 1.1 0 1 0 2.2 0a1.1 1.1 0 1 0 -2.2 0M611.8 233.2a1.1 1.1 0 1 0 2.2 0a1.1 1.1 0 1 0 -2.2 0M614.0 233.2a1.1 1.1 0 1 0 2.2 0a1.1 1.1 0 1 0 -2.2 0M618.1 233.2a1.1 1.1 0 1 0 2.2 0a1.1 1.1 0 1 0 -2.2 0M621.0 233.2a1.1 1.1 0 1 0 2.2 0a1.1 1.1 0 1 0 -2.2 0M624.0 233.2a1.1 1.1 0 1 0 2.2 0a1.1 1.1 0 1 0 -2.2 0M626.6 233.2a1.1 1.1 0 1 0 2.2 0a1.1 1.1 0 1 0 -2.2 0M611.6 221.0a1.1 1.1 0 1 0 2.2 0a1.1 1.1 0 1 0 -2.2 0M613.7 221.0a1.1 1.1 0 1 0 2.2 0a1.1 1.1 0 1 0 -2.2 0M615.8 221.0a1.1 1.1 0 1 0 2.2 0a1.1 1.1 0 1 0 -2.2 0M617.9 221.0a1.1 1.1 0 1 0 2.2 0a1.1 1.1 0 1 0 -2.2 0M619.9 221.0a1.1 1.1 0 1 0 2.2 0a1.1 1.1 0 1 0 -2.2 0M622.9 221.0a1.1 1.1 0 1 0 2.2 0a1.1 1.1 0 1 0 -2.2 0M625.1 221.0a1.1 1.1 0 1 0 2.2 0a1.1 1.1 0 1 0 -2.2 0M628.2 221.0a1.1 1.1 0 1 0 2.2 0a1.1 1.1 0 1 0 -2.2 0M608.9 208.8a1.1 1.1 0 1 0 2.2 0a1.1 1.1 0 1 0 -2.2 0M611.2 208.8a1.1 1.1 0 1 0 2.2 0a1.1 1.1 0 1 0 -2.2 0M613.5 208.8a1.1 1.1 0 1 0 2.2 0a1.1 1.1 0 1 0 -2.2 0M616.2 208.8a1.1 1.1 0 1 0 2.2 0a1.1 1.1 0 1 0 -2.2 0M618.8 208.8a1.1 1.1 0 1 0 2.2 0a1.1 1.1 0 1 0 -2.2 0M621.4 208.8a1.1 1.1 0 1 0 2.2 0a1.1 1.1 0 1 0 -2.2 0M624.0 208.8a1.1 1.1 0 1 0 2.2 0a1.1 1.1 0 1 0 -2.2 0M626.6 208.8a1.1 1.1 0 1 0 2.2 0a1.1 1.1 0 1 0 -2.2 0M628.8 208.8a1.1 1.1 0 1 0 2.2 0a1.1 1.1 0 1 0 -2.2 0M609.8 196.6a1.1 1.1 0 1 0 2.2 0a1.1 1.1 0 1 0 -2.2 0M612.2 196.6a1.1 1.1 0 1 0 2.2 0a1.1 1.1 0 1 0 -2.2 0M622.7 196.6a1.1 1.1 0 1 0 2.2 0a1.1 1.1 0 1 0 -2.2 0M625.0 196.6a1.1 1.1 0 1 0 2.2 0a1.1 1.1 0 1 0 -2.2 0M627.3 196.6a1.1 1.1 0 1 0 2.2 0a1.1 1.1 0 1 0 -2.2 0M612.2 184.4a1.1 1.1 0 1 0 2.2 0a1.1 1.1 0 1 0 -2.2 0M613.5 184.4a1.1 1.1 0 1 0 2.2 0a1.1 1.1 0 1 0 -2.2 0M621.4 184.4a1.1 1.1 0 1 0 2.2 0a1.1 1.1 0 1 0 -2.2 0M626.4 184.4a1.1 1.1 0 1 0 2.2 0a1.1 1.1 0 1 0 -2.2 0M628.2 184.4a1.1 1.1 0 1 0 2.2 0a1.1 1.1 0 1 0 -2.2 0M609.2 172.2a1.1 1.1 0 1 0 2.2 0a1.1 1.1 0 1 0 -2.2 0M612.2 172.2a1.1 1.1 0 1 0 2.2 0a1.1 1.1 0 1 0 -2.2 0M615.9 172.2a1.1 1.1 0 1 0 2.2 0a1.1 1.1 0 1 0 -2.2 0M617.4 172.2a1.1 1.1 0 1 0 2.2 0a1.1 1.1 0 1 0 -2.2 0M624.5 172.2a1.1 1.1 0 1 0 2.2 0a1.1 1.1 0 1 0 -2.2 0M612.0 160.0a1.1 1.1 0 1 0 2.2 0a1.1 1.1 0 1 0 -2.2 0M619.0 160.0a1.1 1.1 0 1 0 2.2 0a1.1 1.1 0 1 0 -2.2 0M621.8 160.0a1.1 1.1 0 1 0 2.2 0a1.1 1.1 0 1 0 -2.2 0M623.2 160.0a1.1 1.1 0 1 0 2.2 0a1.1 1.1 0 1 0 -2.2 0M609.8 147.7a1.1 1.1 0 1 0 2.2 0a1.1 1.1 0 1 0 -2.2 0M622.7 147.7a1.1 1.1 0 1 0 2.2 0a1.1 1.1 0 1 0 -2.2 0M619.6 135.5a1.1 1.1 0 1 0 2.2 0a1.1 1.1 0 1 0 -2.2 0M623.6 123.3a1.1 1.1 0 1 0 2.2 0a1.1 1.1 0 1 0 -2.2 0M626.4 123.3a1.1 1.1 0 1 0 2.2 0a1.1 1.1 0 1 0 -2.2 0M616.8 111.1a1.1 1.1 0 1 0 2.2 0a1.1 1.1 0 1 0 -2.2 0M615.5 86.7a1.1 1.1 0 1 0 2.2 0a1.1 1.1 0 1 0 -2.2 0M621.0 86.7a1.1 1.1 0 1 0 2.2 0a1.1 1.1 0 1 0 -2.2 0" fill="#111"/>
<rect x="54" y="55" width="2" height="399" fill="#868686"/>
<rect x="54" y="452" width="630" height="2" fill="#868686"/>
<rect x="56" y="379.24" width="2" height="1" fill="#333"/>
<rect x="56" y="305.98" width="2" height="1" fill="#333"/>
<rect x="56" y="232.72" width="2" height="1" fill="#333"/>
<rect x="56" y="159.46" width="2" height="1" fill="#333"/>
<rect x="56" y="86.20" width="2" height="1" fill="#333"/>
<rect x="117.20" y="249.20" width="1.6" height="17.30" fill="#000"/>
<rect x="112.00" y="248.60" width="12" height="1.3" fill="#000"/>
<rect x="112.00" y="265.90" width="12" height="1.3" fill="#000"/>
<rect x="115.00" y="254.40" width="6" height="5.8" fill="#000"/>
<rect x="179.70" y="229.80" width="1.6" height="15.70" fill="#000"/>
<rect x="174.50" y="229.20" width="12" height="1.3" fill="#000"/>
<rect x="174.50" y="244.90" width="12" height="1.3" fill="#000"/>
<rect x="177.50" y="235.10" width="6" height="5.8" fill="#000"/>
<rect x="242.70" y="274.10" width="1.6" height="19.20" fill="#000"/>
<rect x="237.50" y="273.50" width="12" height="1.3" fill="#000"/>
<rect x="237.50" y="292.70" width="12" height="1.3" fill="#000"/>
<rect x="240.50" y="280.60" width="6" height="5.8" fill="#000"/>
<rect x="305.20" y="293.60" width="1.6" height="17.80" fill="#000"/>
<rect x="300.00" y="293.00" width="12" height="1.3" fill="#000"/>
<rect x="300.00" y="310.80" width="12" height="1.3" fill="#000"/>
<rect x="303.00" y="299.10" width="6" height="5.8" fill="#000"/>
<rect x="431.20" y="239.40" width="1.6" height="15.00" fill="#000"/>
<rect x="426.00" y="238.80" width="12" height="1.3" fill="#000"/>
<rect x="426.00" y="253.80" width="12" height="1.3" fill="#000"/>
<rect x="429.00" y="244.00" width="6" height="5.8" fill="#000"/>
<rect x="494.20" y="229.10" width="1.6" height="14.20" fill="#000"/>
<rect x="489.00" y="228.50" width="12" height="1.3" fill="#000"/>
<rect x="489.00" y="242.70" width="12" height="1.3" fill="#000"/>
<rect x="492.00" y="233.30" width="6" height="5.8" fill="#000"/>
<rect x="556.70" y="272.00" width="1.6" height="16.70" fill="#000"/>
<rect x="551.50" y="271.40" width="12" height="1.3" fill="#000"/>
<rect x="551.50" y="288.10" width="12" height="1.3" fill="#000"/>
<rect x="554.50" y="276.90" width="6" height="5.8" fill="#000"/>
<rect x="619.20" y="274.80" width="1.6" height="16.90" fill="#000"/>
<rect x="614.00" y="274.20" width="12" height="1.3" fill="#000"/>
<rect x="614.00" y="291.10" width="12" height="1.3" fill="#000"/>
<rect x="617.00" y="280.10" width="6" height="5.8" fill="#000"/>
</svg></body></html>
